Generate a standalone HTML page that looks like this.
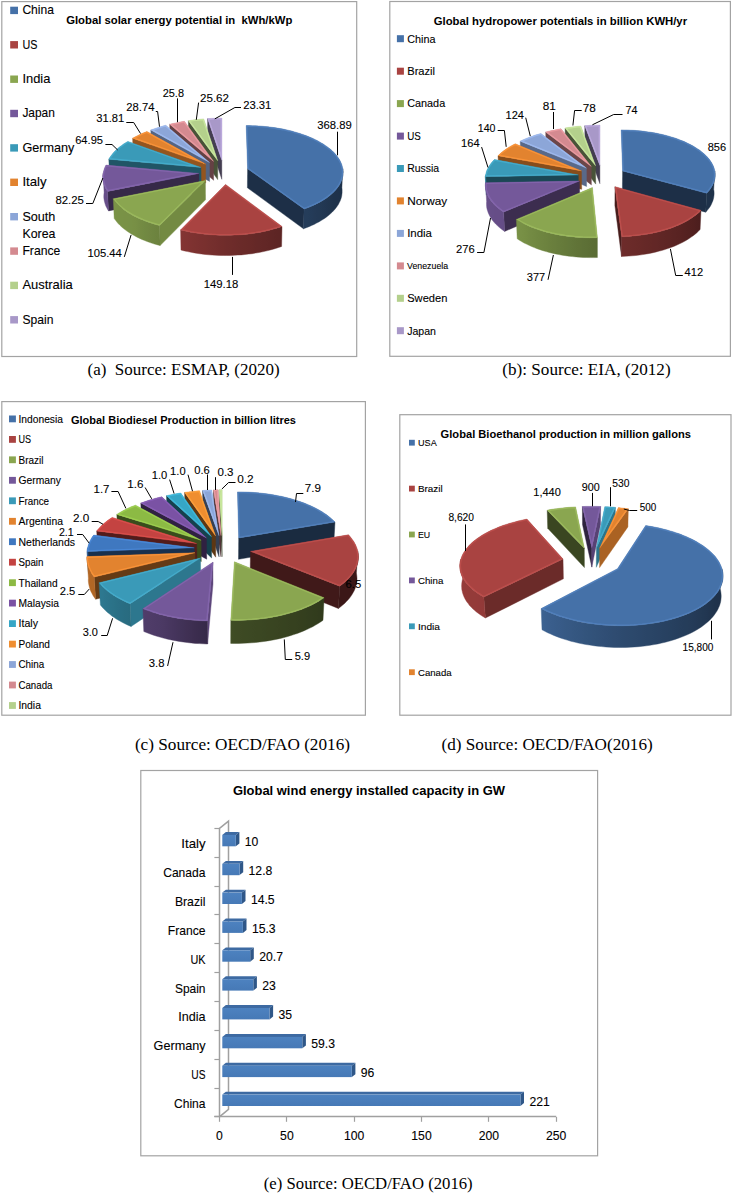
<!DOCTYPE html>
<html><head><meta charset="utf-8"><style>
html,body{margin:0;padding:0;background:#fff;}
body{width:733px;height:1194px;overflow:hidden;}
svg{display:block;}
</style></head><body>
<svg width="733" height="1194" viewBox="0 0 733 1194">
<defs>
<linearGradient id="a_r0_90" gradientUnits="userSpaceOnUse" x1="304.1" y1="0" x2="343.1" y2="0"><stop offset="0.000" stop-color="#253d5b"/><stop offset="0.072" stop-color="#253d5a"/><stop offset="0.142" stop-color="#243c59"/><stop offset="0.210" stop-color="#243b58"/><stop offset="0.275" stop-color="#243a56"/><stop offset="0.338" stop-color="#233955"/><stop offset="0.399" stop-color="#233954"/><stop offset="0.457" stop-color="#223853"/><stop offset="0.512" stop-color="#223752"/><stop offset="0.564" stop-color="#213651"/><stop offset="0.614" stop-color="#21354f"/><stop offset="0.661" stop-color="#20354e"/><stop offset="0.705" stop-color="#20344d"/><stop offset="0.746" stop-color="#1f334c"/><stop offset="0.784" stop-color="#1f334b"/><stop offset="0.819" stop-color="#1f324b"/><stop offset="0.851" stop-color="#1f324b"/><stop offset="0.879" stop-color="#1f324a"/><stop offset="0.905" stop-color="#1e324a"/><stop offset="0.928" stop-color="#1e324a"/><stop offset="0.948" stop-color="#1e3149"/><stop offset="0.964" stop-color="#1e3149"/><stop offset="0.978" stop-color="#1e3149"/><stop offset="0.988" stop-color="#1e3148"/><stop offset="0.993" stop-color="#1d2f47"/><stop offset="0.995" stop-color="#1e3048"/><stop offset="0.998" stop-color="#1d3047"/><stop offset="0.999" stop-color="#1d3048"/><stop offset="1.000" stop-color="#1d3047"/></linearGradient>
<clipPath id="a_c0"><polygon points="247.6,168.7 246.2,125.6 249.4,125.6 252.5,125.7 255.6,125.8 258.8,126.0 261.9,126.2 265.0,126.5 268.1,126.8 271.1,127.2 274.2,127.6 277.2,128.1 280.2,128.6 283.1,129.1 286.0,129.7 288.9,130.4 291.8,131.1 294.5,131.9 297.3,132.7 300.0,133.5 302.6,134.4 305.2,135.3 307.7,136.3 310.1,137.3 312.5,138.3 314.8,139.4 317.1,140.5 319.2,141.7 321.3,142.9 323.3,144.1 325.2,145.4 327.1,146.7 328.8,148.0 330.5,149.3 332.1,150.7 333.5,152.1 334.9,153.6 336.2,155.0 337.3,156.5 338.4,158.0 339.4,159.6 340.2,161.1 341.0,162.7 341.6,164.2 342.1,165.8 342.5,167.4 342.8,169.0 343.0,170.6 343.1,172.2 343.0,173.8 342.8,175.5 342.5,177.1 342.1,178.7 341.6,180.3 340.9,181.9 340.2,183.5 339.3,185.1 338.3,186.6 337.1,188.2 335.9,189.7 334.5,191.2 333.0,192.7 331.4,194.1 329.7,195.6 327.9,197.0 326.0,198.4 324.0,199.7 321.8,201.0 319.6,202.3 317.2,203.5 314.8,204.7 312.3,205.8 309.6,206.9 306.9,208.0 304.1,209.0"/></clipPath>
<linearGradient id="a_r1_146" gradientUnits="userSpaceOnUse" x1="180.6" y1="0" x2="282.0" y2="0"><stop offset="0.000" stop-color="#843433"/><stop offset="0.032" stop-color="#823432"/><stop offset="0.066" stop-color="#813332"/><stop offset="0.099" stop-color="#7f3231"/><stop offset="0.133" stop-color="#7d3230"/><stop offset="0.168" stop-color="#7c3130"/><stop offset="0.203" stop-color="#7a302f"/><stop offset="0.239" stop-color="#79302e"/><stop offset="0.274" stop-color="#772f2e"/><stop offset="0.310" stop-color="#752f2d"/><stop offset="0.347" stop-color="#742e2d"/><stop offset="0.383" stop-color="#722d2c"/><stop offset="0.419" stop-color="#712d2b"/><stop offset="0.456" stop-color="#6f2c2b"/><stop offset="0.492" stop-color="#6e2c2a"/><stop offset="0.529" stop-color="#6d2b2a"/><stop offset="0.565" stop-color="#6b2b29"/><stop offset="0.601" stop-color="#6a2a29"/><stop offset="0.637" stop-color="#692a28"/><stop offset="0.672" stop-color="#682928"/><stop offset="0.708" stop-color="#672927"/><stop offset="0.742" stop-color="#652827"/><stop offset="0.777" stop-color="#642827"/><stop offset="0.810" stop-color="#632726"/><stop offset="0.844" stop-color="#622726"/><stop offset="0.876" stop-color="#612625"/><stop offset="0.908" stop-color="#5f2625"/><stop offset="0.940" stop-color="#5e2524"/><stop offset="0.970" stop-color="#5d2524"/><stop offset="1.000" stop-color="#5c2423"/></linearGradient>
<clipPath id="a_c1"><polygon points="225.5,184.4 282.0,226.5 279.0,227.5 275.9,228.4 272.7,229.3 269.5,230.2 266.2,231.0 262.8,231.7 259.4,232.4 255.9,233.0 252.4,233.5 248.8,234.0 245.2,234.4 241.6,234.7 237.9,235.0 234.3,235.1 230.6,235.3 226.9,235.3 223.2,235.3 219.5,235.2 215.8,235.1 212.1,234.9 208.5,234.6 204.8,234.2 201.2,233.8 197.7,233.3 194.2,232.8 190.7,232.2 187.3,231.5 183.9,230.7 180.6,229.9"/></clipPath>
<linearGradient id="a_r2_205" gradientUnits="userSpaceOnUse" x1="113.3" y1="0" x2="159.6" y2="0"><stop offset="0.000" stop-color="#7a9347"/><stop offset="0.026" stop-color="#7a9347"/><stop offset="0.054" stop-color="#7a9247"/><stop offset="0.086" stop-color="#7a9246"/><stop offset="0.120" stop-color="#799246"/><stop offset="0.157" stop-color="#799246"/><stop offset="0.197" stop-color="#799246"/><stop offset="0.239" stop-color="#799146"/><stop offset="0.284" stop-color="#799146"/><stop offset="0.331" stop-color="#789146"/><stop offset="0.381" stop-color="#789146"/><stop offset="0.433" stop-color="#789045"/><stop offset="0.488" stop-color="#778f45"/><stop offset="0.545" stop-color="#758d44"/><stop offset="0.604" stop-color="#748b43"/><stop offset="0.665" stop-color="#728a42"/><stop offset="0.728" stop-color="#718842"/><stop offset="0.794" stop-color="#708641"/><stop offset="0.861" stop-color="#6e8540"/><stop offset="0.930" stop-color="#6d833f"/><stop offset="1.000" stop-color="#6c823e"/></linearGradient>
<clipPath id="a_c2"><polygon points="205.4,180.5 159.6,225.6 156.3,224.7 153.2,223.8 150.0,222.8 147.0,221.7 144.1,220.6 141.3,219.4 138.5,218.2 135.9,217.0 133.3,215.7 130.9,214.3 128.6,212.9 126.4,211.5 124.3,210.0 122.4,208.5 120.6,207.0 118.8,205.4 117.3,203.8 115.8,202.2 114.5,200.5 113.3,198.8"/></clipPath>
<linearGradient id="a_r3_247" gradientUnits="userSpaceOnUse" x1="102.8" y1="0" x2="107.5" y2="0"><stop offset="0.000" stop-color="#684f8a"/><stop offset="0.008" stop-color="#684f8a"/><stop offset="0.018" stop-color="#684f8a"/><stop offset="0.041" stop-color="#684f8a"/><stop offset="0.061" stop-color="#684f8b"/><stop offset="0.100" stop-color="#684f8a"/><stop offset="0.185" stop-color="#674e89"/><stop offset="0.296" stop-color="#674e89"/><stop offset="0.433" stop-color="#674e89"/><stop offset="0.596" stop-color="#674e89"/><stop offset="0.785" stop-color="#674e89"/><stop offset="1.000" stop-color="#674e88"/></linearGradient>
<clipPath id="a_c3"><polygon points="198.9,173.4 107.5,191.4 106.5,189.8 105.6,188.1 104.9,186.5 104.2,184.9 103.7,183.2 103.3,181.5 103.0,179.9 102.9,178.2 102.8,176.5 102.9,174.9 103.2,173.2 103.5,171.6 104.0,169.9 104.5,168.3 105.2,166.7 106.0,165.1"/></clipPath>
<clipPath id="a_c4"><polygon points="201.0,167.4 108.8,159.2 109.8,157.6 110.9,156.0 112.1,154.4 113.4,152.8 114.8,151.3 116.4,149.8 118.0,148.3 119.8,146.8 121.7,145.4 123.6,144.0 125.7,142.7 127.9,141.4"/></clipPath>
<clipPath id="a_c5"><polygon points="205.6,164.1 132.6,138.3 134.8,137.1 137.1,135.9 139.4,134.7 141.8,133.6 144.4,132.5 146.9,131.5"/></clipPath>
<clipPath id="a_c6"><polygon points="209.5,162.5 150.8,130.0 153.7,129.0 156.6,128.0 159.6,127.0 162.7,126.1 165.8,125.3"/></clipPath>
<clipPath id="a_c7"><polygon points="213.6,161.4 169.7,124.3 172.6,123.6 175.5,123.0 178.4,122.4 181.4,121.8 184.4,121.3"/></clipPath>
<clipPath id="a_c8"><polygon points="217.7,160.7 188.4,120.7 191.4,120.2 194.5,119.8 197.5,119.5 200.6,119.2 203.7,118.9"/></clipPath>
<clipPath id="a_c9"><polygon points="221.8,160.3 207.6,118.6 211.2,118.4 214.8,118.3 218.3,118.2 221.9,118.1"/></clipPath>
<linearGradient id="b_r0_90" gradientUnits="userSpaceOnUse" x1="706.7" y1="0" x2="715.1" y2="0"><stop offset="0.000" stop-color="#1f334b"/><stop offset="0.166" stop-color="#1f334b"/><stop offset="0.317" stop-color="#1f324b"/><stop offset="0.453" stop-color="#1f324a"/><stop offset="0.574" stop-color="#1e324a"/><stop offset="0.680" stop-color="#1e324a"/><stop offset="0.771" stop-color="#1e3149"/><stop offset="0.847" stop-color="#1e3149"/><stop offset="0.907" stop-color="#1e3149"/><stop offset="0.953" stop-color="#1e3148"/><stop offset="0.958" stop-color="#1d2f47"/><stop offset="0.983" stop-color="#1e3048"/><stop offset="0.986" stop-color="#1d3047"/><stop offset="0.999" stop-color="#1d3048"/><stop offset="1.000" stop-color="#1d3047"/></linearGradient>
<clipPath id="b_c0"><polygon points="622.6,170.9 621.2,129.9 624.3,130.0 627.3,130.0 630.3,130.2 633.3,130.3 636.3,130.5 639.3,130.8 642.3,131.1 645.3,131.5 648.2,131.9 651.1,132.3 654.0,132.8 656.8,133.3 659.7,133.9 662.4,134.6 665.2,135.2 667.9,135.9 670.5,136.7 673.1,137.5 675.7,138.3 678.2,139.2 680.6,140.2 683.0,141.1 685.3,142.1 687.5,143.2 689.7,144.2 691.8,145.3 693.9,146.5 695.8,147.7 697.7,148.9 699.5,150.1 701.2,151.4 702.8,152.7 704.3,154.1 705.8,155.4 707.1,156.8 708.4,158.2 709.5,159.6 710.5,161.1 711.5,162.6 712.3,164.1 713.1,165.6 713.7,167.1 714.2,168.6 714.6,170.2 714.9,171.7 715.1,173.3 715.1,174.8 715.1,176.4 714.9,178.0 714.6,179.5 714.2,181.1 713.7,182.7 713.0,184.2 712.3,185.8 711.4,187.3 710.4,188.8 709.3,190.3 708.0,191.8 706.7,193.3"/></clipPath>
<linearGradient id="b_r1_119" gradientUnits="userSpaceOnUse" x1="621.7" y1="0" x2="701.0" y2="0"><stop offset="0.000" stop-color="#6e2b2a"/><stop offset="0.046" stop-color="#6c2b2a"/><stop offset="0.092" stop-color="#6b2b29"/><stop offset="0.137" stop-color="#6a2a29"/><stop offset="0.182" stop-color="#692a28"/><stop offset="0.227" stop-color="#682928"/><stop offset="0.271" stop-color="#662927"/><stop offset="0.315" stop-color="#652827"/><stop offset="0.358" stop-color="#642826"/><stop offset="0.400" stop-color="#632726"/><stop offset="0.442" stop-color="#622726"/><stop offset="0.483" stop-color="#602625"/><stop offset="0.522" stop-color="#5f2625"/><stop offset="0.561" stop-color="#5e2524"/><stop offset="0.599" stop-color="#5d2524"/><stop offset="0.636" stop-color="#5b2423"/><stop offset="0.672" stop-color="#5a2423"/><stop offset="0.707" stop-color="#592322"/><stop offset="0.740" stop-color="#582322"/><stop offset="0.772" stop-color="#572221"/><stop offset="0.803" stop-color="#552221"/><stop offset="0.833" stop-color="#542120"/><stop offset="0.861" stop-color="#532120"/><stop offset="0.888" stop-color="#52201f"/><stop offset="0.913" stop-color="#51201f"/><stop offset="0.937" stop-color="#4f1f1f"/><stop offset="0.960" stop-color="#4e1f1e"/><stop offset="0.981" stop-color="#4d1e1e"/><stop offset="1.000" stop-color="#4c1e1d"/></linearGradient>
<clipPath id="b_c1"><polygon points="615.0,186.7 701.0,210.3 699.5,211.9 697.8,213.4 696.0,214.9 694.1,216.3 692.1,217.7 690.0,219.1 687.8,220.5 685.4,221.8 683.0,223.1 680.4,224.3 677.8,225.5 675.0,226.6 672.2,227.7 669.3,228.7 666.2,229.7 663.2,230.6 660.0,231.5 656.8,232.3 653.5,233.0 650.1,233.7 646.7,234.3 643.2,234.8 639.7,235.3 636.2,235.7 632.6,236.1 629.0,236.4 625.4,236.6 621.7,236.7"/></clipPath>
<linearGradient id="b_r2_176" gradientUnits="userSpaceOnUse" x1="516.4" y1="0" x2="597.4" y2="0"><stop offset="0.000" stop-color="#789146"/><stop offset="0.027" stop-color="#789146"/><stop offset="0.055" stop-color="#789046"/><stop offset="0.084" stop-color="#778f45"/><stop offset="0.114" stop-color="#768e44"/><stop offset="0.146" stop-color="#748c43"/><stop offset="0.179" stop-color="#738a43"/><stop offset="0.213" stop-color="#728942"/><stop offset="0.248" stop-color="#708741"/><stop offset="0.284" stop-color="#6f8640"/><stop offset="0.321" stop-color="#6e8440"/><stop offset="0.359" stop-color="#6d833f"/><stop offset="0.398" stop-color="#6b813e"/><stop offset="0.438" stop-color="#6a7f3d"/><stop offset="0.478" stop-color="#697e3d"/><stop offset="0.519" stop-color="#677c3c"/><stop offset="0.561" stop-color="#667b3b"/><stop offset="0.604" stop-color="#65793a"/><stop offset="0.646" stop-color="#63783a"/><stop offset="0.690" stop-color="#627639"/><stop offset="0.734" stop-color="#617438"/><stop offset="0.778" stop-color="#607337"/><stop offset="0.822" stop-color="#5e7137"/><stop offset="0.866" stop-color="#5d7036"/><stop offset="0.911" stop-color="#5c6e35"/><stop offset="0.955" stop-color="#5b6d34"/><stop offset="1.000" stop-color="#5a6c34"/></linearGradient>
<clipPath id="b_c2"><polygon points="592.4,187.6 597.4,237.7 593.8,237.8 590.1,237.8 586.5,237.7 582.9,237.6 579.4,237.4 575.8,237.2 572.3,236.8 568.7,236.4 565.3,236.0 561.8,235.4 558.5,234.9 555.1,234.2 551.8,233.5 548.6,232.7 545.5,231.9 542.4,231.0 539.4,230.1 536.5,229.1 533.6,228.0 530.9,226.9 528.2,225.8 525.7,224.6 523.2,223.4 520.8,222.1 518.6,220.8 516.4,219.4"/></clipPath>
<linearGradient id="b_r3_229" gradientUnits="userSpaceOnUse" x1="485.4" y1="0" x2="503.6" y2="0"><stop offset="0.000" stop-color="#684f8a"/><stop offset="0.000" stop-color="#684f8a"/><stop offset="0.006" stop-color="#684f8a"/><stop offset="0.007" stop-color="#684f8a"/><stop offset="0.019" stop-color="#684f8a"/><stop offset="0.038" stop-color="#674e89"/><stop offset="0.065" stop-color="#674e89"/><stop offset="0.097" stop-color="#674e89"/><stop offset="0.137" stop-color="#674e89"/><stop offset="0.182" stop-color="#674e89"/><stop offset="0.235" stop-color="#674e88"/><stop offset="0.294" stop-color="#674e88"/><stop offset="0.360" stop-color="#664e88"/><stop offset="0.432" stop-color="#664e88"/><stop offset="0.511" stop-color="#664d87"/><stop offset="0.596" stop-color="#664d87"/><stop offset="0.688" stop-color="#664d87"/><stop offset="0.786" stop-color="#664d87"/><stop offset="0.890" stop-color="#654d87"/><stop offset="1.000" stop-color="#654d86"/></linearGradient>
<clipPath id="b_c3"><polygon points="579.5,181.0 503.6,212.1 501.6,210.7 499.7,209.3 497.9,207.9 496.3,206.5 494.7,205.0 493.3,203.5 492.0,201.9 490.8,200.4 489.7,198.8 488.7,197.3 487.9,195.7 487.2,194.1 486.6,192.4 486.1,190.8 485.7,189.2 485.5,187.6 485.4,186.0 485.4,184.3 485.5,182.7"/></clipPath>
<linearGradient id="b_r4_267" gradientUnits="userSpaceOnUse" x1="485.3" y1="0" x2="485.6" y2="0"><stop offset="0.000" stop-color="#348aa5"/><stop offset="0.202" stop-color="#348aa5"/><stop offset="0.436" stop-color="#348aa5"/><stop offset="0.702" stop-color="#348ba6"/><stop offset="1.000" stop-color="#348ba6"/></linearGradient>
<clipPath id="b_c4"><polygon points="578.3,174.9 485.3,176.6 485.6,174.9 486.0,173.3 486.4,171.7 487.0,170.1 487.8,168.6 488.6,167.0 489.5,165.5 490.6,163.9 491.7,162.4 493.0,161.0 494.4,159.5"/></clipPath>
<clipPath id="b_c5"><polygon points="581.5,170.9 498.0,155.7 499.5,154.3 501.1,152.8 502.8,151.4 504.7,150.1 506.6,148.7 508.6,147.4 510.7,146.2 512.9,145.0 515.2,143.8"/></clipPath>
<clipPath id="b_c6"><polygon points="586.4,168.1 520.2,141.2 522.6,140.1 525.0,139.0 527.5,138.0 530.0,137.0 532.7,136.1 535.3,135.1 538.1,134.3 540.9,133.5"/></clipPath>
<clipPath id="b_c7"><polygon points="591.3,166.5 545.7,132.1 548.6,131.3 551.7,130.6 554.7,129.9 557.9,129.3 561.0,128.7"/></clipPath>
<clipPath id="b_c8"><polygon points="595.6,165.8 565.1,128.0 568.2,127.5 571.3,127.1 574.4,126.7 577.6,126.3 580.8,126.1"/></clipPath>
<clipPath id="b_c9"><polygon points="599.9,165.4 584.8,125.7 587.8,125.5 590.9,125.3 593.9,125.2 597.0,125.2 600.0,125.1"/></clipPath>
<clipPath id="c_c0"><polygon points="238.7,538.0 237.5,491.9 240.9,491.9 244.3,492.0 247.8,492.1 251.2,492.3 254.6,492.5 258.0,492.8 261.4,493.2 264.7,493.6 268.1,494.0 271.4,494.5 274.6,495.1 277.9,495.7 281.1,496.3 284.2,497.0 287.3,497.8 290.4,498.6 293.4,499.5 296.3,500.4 299.2,501.3 302.1,502.3 304.8,503.3 307.5,504.4 310.1,505.6 312.7,506.7 315.2,507.9 317.6,509.2 319.9,510.5 322.1,511.8 324.2,513.2 326.3,514.6 328.2,516.0 330.0,517.5 331.8,519.0 333.4,520.6 335.0,522.1"/></clipPath>
<linearGradient id="c_r1_90" gradientUnits="userSpaceOnUse" x1="339.7" y1="0" x2="358.4" y2="0"><stop offset="0.000" stop-color="#3b1717"/><stop offset="0.119" stop-color="#3b1717"/><stop offset="0.231" stop-color="#3b1717"/><stop offset="0.336" stop-color="#3b1717"/><stop offset="0.433" stop-color="#3b1717"/><stop offset="0.523" stop-color="#3b1717"/><stop offset="0.605" stop-color="#3b1717"/><stop offset="0.679" stop-color="#3b1717"/><stop offset="0.746" stop-color="#3b1717"/><stop offset="0.805" stop-color="#3b1717"/><stop offset="0.856" stop-color="#3b1717"/><stop offset="0.899" stop-color="#3b1717"/><stop offset="0.935" stop-color="#3b1717"/><stop offset="0.963" stop-color="#3b1717"/><stop offset="0.969" stop-color="#3b1717"/><stop offset="0.983" stop-color="#3b1717"/><stop offset="0.987" stop-color="#3b1717"/><stop offset="0.995" stop-color="#3b1717"/><stop offset="0.997" stop-color="#3b1717"/><stop offset="1.000" stop-color="#3b1717"/></linearGradient>
<clipPath id="c_c1"><polygon points="250.5,551.4 348.5,534.8 350.0,536.5 351.4,538.2 352.6,539.9 353.8,541.6 354.8,543.4 355.7,545.1 356.4,546.9 357.1,548.7 357.6,550.5 358.0,552.4 358.3,554.2 358.4,556.0 358.4,557.9 358.2,559.7 357.9,561.6 357.5,563.4 357.0,565.3 356.3,567.1 355.4,569.0 354.5,570.8 353.4,572.6 352.1,574.4 350.8,576.1 349.2,577.9 347.6,579.6 345.8,581.3 343.9,582.9 341.8,584.6 339.7,586.2"/></clipPath>
<linearGradient id="c_r2_129" gradientUnits="userSpaceOnUse" x1="230.8" y1="0" x2="324.1" y2="0"><stop offset="0.000" stop-color="#414e25"/><stop offset="0.045" stop-color="#3e4b24"/><stop offset="0.091" stop-color="#3e4a24"/><stop offset="0.136" stop-color="#3d4923"/><stop offset="0.181" stop-color="#3c4923"/><stop offset="0.226" stop-color="#3c4823"/><stop offset="0.270" stop-color="#3b4722"/><stop offset="0.314" stop-color="#3b4722"/><stop offset="0.358" stop-color="#3a4622"/><stop offset="0.401" stop-color="#3a4521"/><stop offset="0.444" stop-color="#394521"/><stop offset="0.486" stop-color="#394421"/><stop offset="0.527" stop-color="#384320"/><stop offset="0.568" stop-color="#374320"/><stop offset="0.608" stop-color="#374220"/><stop offset="0.646" stop-color="#36411f"/><stop offset="0.684" stop-color="#36411f"/><stop offset="0.721" stop-color="#35401f"/><stop offset="0.757" stop-color="#353f1e"/><stop offset="0.792" stop-color="#343f1e"/><stop offset="0.825" stop-color="#333e1e"/><stop offset="0.857" stop-color="#333d1e"/><stop offset="0.889" stop-color="#323d1d"/><stop offset="0.918" stop-color="#323c1d"/><stop offset="0.947" stop-color="#313b1d"/><stop offset="0.974" stop-color="#313b1c"/><stop offset="1.000" stop-color="#303a1c"/></linearGradient>
<clipPath id="c_c2"><polygon points="234.4,561.8 324.1,597.7 321.7,599.3 319.2,600.9 316.5,602.4 313.7,603.9 310.8,605.4 307.8,606.8 304.7,608.1 301.4,609.4 298.1,610.6 294.7,611.7 291.1,612.8 287.5,613.8 283.8,614.8 280.0,615.7 276.2,616.5 272.2,617.2 268.3,617.9 264.2,618.5 260.1,619.0 256.0,619.4 251.9,619.8 247.7,620.1 243.5,620.3 239.3,620.4 235.0,620.4 230.8,620.3"/></clipPath>
<linearGradient id="c_r3_182" gradientUnits="userSpaceOnUse" x1="142.9" y1="0" x2="207.4" y2="0"><stop offset="0.000" stop-color="#503d6b"/><stop offset="0.050" stop-color="#4f3c69"/><stop offset="0.101" stop-color="#4f3c68"/><stop offset="0.154" stop-color="#4e3b67"/><stop offset="0.208" stop-color="#4d3a66"/><stop offset="0.263" stop-color="#4c3a65"/><stop offset="0.320" stop-color="#4b3963"/><stop offset="0.377" stop-color="#493761"/><stop offset="0.436" stop-color="#47365e"/><stop offset="0.496" stop-color="#45345c"/><stop offset="0.557" stop-color="#433359"/><stop offset="0.619" stop-color="#413257"/><stop offset="0.681" stop-color="#403054"/><stop offset="0.744" stop-color="#3e2f52"/><stop offset="0.807" stop-color="#3c2d4f"/><stop offset="0.871" stop-color="#3a2c4d"/><stop offset="0.936" stop-color="#382b4b"/><stop offset="1.000" stop-color="#362948"/></linearGradient>
<clipPath id="c_c3"><polygon points="212.9,562.2 207.4,620.9 203.2,620.8 199.1,620.6 195.0,620.3 190.9,619.9 186.8,619.5 182.8,619.0 178.8,618.4 174.9,617.7 171.0,617.0 167.2,616.2 163.5,615.3 159.8,614.4 156.3,613.3 152.8,612.3 149.4,611.1 146.1,609.9 142.9,608.7"/></clipPath>
<linearGradient id="c_r4_216" gradientUnits="userSpaceOnUse" x1="99.1" y1="0" x2="130.1" y2="0"><stop offset="0.000" stop-color="#2d7890"/><stop offset="0.050" stop-color="#2d7890"/><stop offset="0.105" stop-color="#2d788f"/><stop offset="0.165" stop-color="#2d768e"/><stop offset="0.229" stop-color="#2c758c"/><stop offset="0.298" stop-color="#2c748b"/><stop offset="0.371" stop-color="#2b7389"/><stop offset="0.449" stop-color="#2b7288"/><stop offset="0.530" stop-color="#2a7186"/><stop offset="0.616" stop-color="#2a6f85"/><stop offset="0.706" stop-color="#296e84"/><stop offset="0.800" stop-color="#296d82"/><stop offset="0.898" stop-color="#296c81"/><stop offset="1.000" stop-color="#286b7f"/></linearGradient>
<clipPath id="c_c4"><polygon points="200.5,558.0 130.1,603.8 126.9,602.5 123.9,601.1 121.0,599.6 118.2,598.1 115.5,596.6 113.0,595.0 110.6,593.4 108.3,591.7 106.2,590.0 104.2,588.2 102.3,586.4 100.6,584.6 99.1,582.8"/></clipPath>
<linearGradient id="c_r5_243" gradientUnits="userSpaceOnUse" x1="86.9" y1="0" x2="94.2" y2="0"><stop offset="0.000" stop-color="#b46825"/><stop offset="0.006" stop-color="#b46825"/><stop offset="0.013" stop-color="#b46825"/><stop offset="0.045" stop-color="#b36825"/><stop offset="0.097" stop-color="#b36825"/><stop offset="0.167" stop-color="#b36825"/><stop offset="0.258" stop-color="#b26725"/><stop offset="0.367" stop-color="#b26725"/><stop offset="0.496" stop-color="#b26725"/><stop offset="0.645" stop-color="#b16725"/><stop offset="0.813" stop-color="#b16725"/><stop offset="1.000" stop-color="#b16625"/></linearGradient>
<clipPath id="c_c5"><polygon points="195.0,552.7 94.2,577.1 92.9,575.3 91.6,573.4 90.5,571.6 89.6,569.7 88.8,567.9 88.1,566.0 87.6,564.1 87.3,562.2 87.0,560.4 86.9,558.5 87.0,556.6"/></clipPath>
<linearGradient id="c_r6_265" gradientUnits="userSpaceOnUse" x1="87.1" y1="0" x2="87.6" y2="0"><stop offset="0.000" stop-color="#326099"/><stop offset="0.145" stop-color="#326099"/><stop offset="0.360" stop-color="#326099"/><stop offset="0.645" stop-color="#326099"/><stop offset="1.000" stop-color="#32609a"/></linearGradient>
<clipPath id="c_c6"><polygon points="194.3,547.8 87.1,551.6 87.3,549.7 87.6,547.8 88.1,546.0 88.7,544.1 89.4,542.3 90.3,540.4 91.3,538.6 92.4,536.8 93.7,535.1"/></clipPath>
<clipPath id="c_c7"><polygon points="196.7,543.6 96.7,531.0 98.2,529.2 99.8,527.4 101.6,525.6 103.4,523.9 105.5,522.2 107.6,520.6 109.8,519.0 112.2,517.4"/></clipPath>
<clipPath id="c_c8"><polygon points="201.1,540.3 116.8,514.4 119.2,512.9 121.7,511.5 124.3,510.1 127.0,508.8 129.7,507.5 132.6,506.3 135.5,505.2"/></clipPath>
<clipPath id="c_c9"><polygon points="206.5,538.0 140.8,503.1 143.6,502.1 146.5,501.1 149.5,500.1 152.5,499.2 155.5,498.3 158.6,497.5 161.8,496.8"/></clipPath>
<clipPath id="c_c10"><polygon points="211.5,536.7 166.5,495.7 170.0,494.9 173.6,494.2 177.1,493.6 180.8,493.0"/></clipPath>
<clipPath id="c_c11"><polygon points="215.6,536.0 184.6,492.4 188.3,491.9 192.0,491.4 195.7,491.1 199.5,490.7"/></clipPath>
<clipPath id="c_c12"><polygon points="219.0,535.7 202.6,490.5 204.9,490.3 207.2,490.2 209.4,490.1 211.7,490.0"/></clipPath>
<clipPath id="c_c13"><polygon points="221.0,535.6 213.5,489.9 214.6,489.9 215.8,489.8 216.9,489.8 218.0,489.8"/></clipPath>
<clipPath id="c_c14"><polygon points="222.1,535.6 219.1,489.8 219.8,489.8 220.6,489.8 221.3,489.8 222.1,489.8"/></clipPath>
<linearGradient id="d_r0_90" gradientUnits="userSpaceOnUse" x1="541.2" y1="0" x2="723.0" y2="0"><stop offset="0.000" stop-color="#3c6291"/><stop offset="0.015" stop-color="#3b6190"/><stop offset="0.032" stop-color="#3a5f8e"/><stop offset="0.048" stop-color="#3a5e8c"/><stop offset="0.066" stop-color="#395d8b"/><stop offset="0.084" stop-color="#385c89"/><stop offset="0.102" stop-color="#385b88"/><stop offset="0.121" stop-color="#375a86"/><stop offset="0.141" stop-color="#365984"/><stop offset="0.161" stop-color="#365883"/><stop offset="0.181" stop-color="#355781"/><stop offset="0.202" stop-color="#345680"/><stop offset="0.223" stop-color="#34557e"/><stop offset="0.245" stop-color="#33547c"/><stop offset="0.267" stop-color="#32537b"/><stop offset="0.289" stop-color="#325279"/><stop offset="0.311" stop-color="#315178"/><stop offset="0.334" stop-color="#314f76"/><stop offset="0.356" stop-color="#304e75"/><stop offset="0.379" stop-color="#2f4d73"/><stop offset="0.402" stop-color="#2f4c71"/><stop offset="0.425" stop-color="#2e4b70"/><stop offset="0.448" stop-color="#2d4a6e"/><stop offset="0.471" stop-color="#2d496d"/><stop offset="0.494" stop-color="#2c496c"/><stop offset="0.516" stop-color="#2c486b"/><stop offset="0.539" stop-color="#2b476a"/><stop offset="0.561" stop-color="#2b4668"/><stop offset="0.583" stop-color="#2a4567"/><stop offset="0.605" stop-color="#2a4566"/><stop offset="0.626" stop-color="#294465"/><stop offset="0.648" stop-color="#294364"/><stop offset="0.668" stop-color="#284262"/><stop offset="0.689" stop-color="#284161"/><stop offset="0.709" stop-color="#274160"/><stop offset="0.728" stop-color="#27405f"/><stop offset="0.747" stop-color="#263f5e"/><stop offset="0.765" stop-color="#263e5c"/><stop offset="0.783" stop-color="#253d5b"/><stop offset="0.800" stop-color="#253d5a"/><stop offset="0.817" stop-color="#253c59"/><stop offset="0.833" stop-color="#243b58"/><stop offset="0.848" stop-color="#243a57"/><stop offset="0.863" stop-color="#233955"/><stop offset="0.877" stop-color="#233954"/><stop offset="0.890" stop-color="#223853"/><stop offset="0.903" stop-color="#223752"/><stop offset="0.914" stop-color="#213651"/><stop offset="0.926" stop-color="#21354f"/><stop offset="0.936" stop-color="#20354e"/><stop offset="0.945" stop-color="#20344d"/><stop offset="0.954" stop-color="#1f334c"/><stop offset="0.962" stop-color="#1f334b"/><stop offset="0.969" stop-color="#1f324b"/><stop offset="0.976" stop-color="#1f324b"/><stop offset="0.982" stop-color="#1f324a"/><stop offset="0.987" stop-color="#1e324a"/><stop offset="0.991" stop-color="#1e324a"/><stop offset="0.994" stop-color="#1e3149"/><stop offset="0.994" stop-color="#1d2f47"/><stop offset="0.997" stop-color="#1e3149"/><stop offset="0.997" stop-color="#1d3047"/><stop offset="0.999" stop-color="#1d3047"/><stop offset="0.999" stop-color="#1e3149"/><stop offset="1.000" stop-color="#1d3048"/><stop offset="1.000" stop-color="#1e3148"/><stop offset="1.000" stop-color="#1e3048"/></linearGradient>
<clipPath id="d_c0"><polygon points="617.5,568.7 645.7,525.6 648.8,526.1 652.0,526.6 655.1,527.2 658.2,527.8 661.2,528.5 664.2,529.3 667.2,530.0 670.1,530.9 673.0,531.7 675.8,532.7 678.6,533.6 681.3,534.6 684.0,535.7 686.6,536.8 689.1,537.9 691.6,539.1 694.0,540.3 696.3,541.6 698.6,542.9 700.7,544.2 702.8,545.6 704.8,547.0 706.7,548.4 708.6,549.9 710.3,551.4 711.9,553.0 713.4,554.5 714.9,556.1 716.2,557.8 717.4,559.4 718.5,561.1 719.5,562.8 720.3,564.5 721.1,566.3 721.7,568.0 722.2,569.8 722.6,571.6 722.8,573.4 723.0,575.2 723.0,577.0 722.8,578.8 722.6,580.6 722.1,582.4 721.6,584.2 720.9,586.1 720.1,587.9 719.1,589.6 718.1,591.4 716.8,593.2 715.4,594.9 713.9,596.6 712.3,598.3 710.5,600.0 708.6,601.6 706.5,603.3 704.4,604.8 702.0,606.4 699.6,607.9 697.0,609.3 694.4,610.7 691.5,612.1 688.6,613.4 685.6,614.6 682.5,615.8 679.2,617.0 675.9,618.0 672.4,619.1 668.9,620.0 665.3,620.9 661.6,621.7 657.8,622.4 654.0,623.1 650.1,623.7 646.2,624.2 642.2,624.7 638.2,625.1 634.1,625.4 630.0,625.6 625.9,625.7 621.8,625.8 617.7,625.7 613.5,625.6 609.4,625.5 605.3,625.2 601.2,624.9 597.2,624.5 593.2,624.0 589.2,623.4 585.3,622.8 581.4,622.1 577.6,621.3 573.8,620.4 570.2,619.5 566.6,618.6 563.0,617.5 559.6,616.4 556.3,615.2 553.1,614.0 549.9,612.7 546.9,611.4 544.0,610.0 541.2,608.6"/></clipPath>
<linearGradient id="d_r1_223" gradientUnits="userSpaceOnUse" x1="459.8" y1="0" x2="483.8" y2="0"><stop offset="0.000" stop-color="#973c3a"/><stop offset="0.002" stop-color="#973c3a"/><stop offset="0.003" stop-color="#973c3a"/><stop offset="0.010" stop-color="#973c3a"/><stop offset="0.011" stop-color="#983c3a"/><stop offset="0.023" stop-color="#973c3a"/><stop offset="0.025" stop-color="#983c3a"/><stop offset="0.042" stop-color="#963c3a"/><stop offset="0.044" stop-color="#983c3a"/><stop offset="0.067" stop-color="#963b3a"/><stop offset="0.097" stop-color="#963b3a"/><stop offset="0.133" stop-color="#963b3a"/><stop offset="0.174" stop-color="#953b39"/><stop offset="0.222" stop-color="#953b39"/><stop offset="0.274" stop-color="#953b39"/><stop offset="0.333" stop-color="#953b39"/><stop offset="0.397" stop-color="#943b39"/><stop offset="0.467" stop-color="#943b39"/><stop offset="0.542" stop-color="#943b39"/><stop offset="0.623" stop-color="#943b39"/><stop offset="0.709" stop-color="#943a39"/><stop offset="0.801" stop-color="#933a39"/><stop offset="0.898" stop-color="#933a39"/><stop offset="1.000" stop-color="#923a38"/></linearGradient>
<clipPath id="d_c1"><polygon points="563.0,559.0 483.8,597.1 481.3,595.7 479.0,594.2 476.8,592.7 474.7,591.2 472.8,589.6 470.9,588.0 469.3,586.4 467.7,584.7 466.3,583.0 465.0,581.4 463.9,579.6 462.9,577.9 462.1,576.2 461.4,574.4 460.8,572.7 460.3,570.9 460.0,569.2 459.9,567.4 459.8,565.7 459.9,563.9 460.1,562.2 460.5,560.5 461.0,558.7 461.6,557.0 462.3,555.3 463.1,553.7 464.1,552.0 465.2,550.4 466.3,548.8 467.6,547.2 469.0,545.6 470.5,544.1 472.1,542.6 473.8,541.1 475.6,539.7 477.5,538.3 479.5,536.9 481.6,535.6 483.7,534.3 486.0,533.0 488.3,531.8 490.6,530.6 493.1,529.5 495.6,528.4 498.2,527.3 500.8,526.3 503.5,525.3 506.3,524.4 509.1,523.5 512.0,522.7 514.9,521.9 517.8,521.1 520.8,520.4 523.9,519.7 526.9,519.1"/></clipPath>
<clipPath id="d_c2"><polygon points="584.3,548.2 547.2,510.2 550.2,509.6 553.3,509.1 556.4,508.7 559.6,508.3 562.8,507.9 566.0,507.6 569.2,507.3 572.4,507.1 575.6,506.9"/></clipPath>
<clipPath id="d_c3"><polygon points="591.8,547.7 582.4,506.6 586.0,506.4 589.7,506.4 593.3,506.4 597.0,506.4 600.6,506.5"/></clipPath>
<clipPath id="d_c4"><polygon points="596.4,547.9 604.8,506.7 607.5,506.8 610.1,507.0 612.8,507.1 615.4,507.4"/></clipPath>
<clipPath id="d_c5"><polygon points="599.7,548.2 618.4,507.6 620.9,507.9 623.4,508.2 625.8,508.5 628.3,508.8"/></clipPath>
<linearGradient id="barF" x1="0" y1="0" x2="0" y2="1"><stop offset="0" stop-color="#4d82c0"/><stop offset="1" stop-color="#4679b6"/></linearGradient>
</defs>
<rect x="0" y="0" width="733" height="1194" fill="#fff"/>
<rect x="1.8" y="1.6" width="354.9" height="354.9" fill="none" stroke="#a3a3a3" stroke-width="1.2"/>
<rect x="389.8" y="1.5" width="340.6" height="354.8" fill="none" stroke="#a3a3a3" stroke-width="1.2"/>
<rect x="1.8" y="401.6" width="363.6" height="313.6" fill="none" stroke="#a3a3a3" stroke-width="1.2"/>
<rect x="399.8" y="414.7" width="331.2" height="300.5" fill="none" stroke="#a3a3a3" stroke-width="1.2"/>
<rect x="140.8" y="770.5" width="456.8" height="385.3" fill="none" stroke="#a3a3a3" stroke-width="1.2"/>
<polygon points="221.8,160.3 207.6,118.6 207.7,136.8 221.8,179.3" fill="#433d50" stroke="#433d50" stroke-width="0.4"/>
<polygon points="221.8,160.3 207.6,118.6 211.2,118.4 214.8,118.3 218.3,118.2 221.9,118.1" fill="#a898c8" stroke="#a898c8" stroke-width="0.4"/>
<polygon points="221.8,160.3 207.6,118.6 211.2,118.4 214.8,118.3 218.3,118.2 221.9,118.1" fill="none" stroke="#bfade2" stroke-width="2.6" stroke-linejoin="round" clip-path="url(#a_c9)" opacity="0.8"/>
<polygon points="217.7,160.7 188.4,120.7 188.6,138.9 217.7,179.6" fill="#485338" stroke="#485338" stroke-width="0.4"/>
<polygon points="217.7,160.7 188.4,120.7 191.4,120.2 194.5,119.8 197.5,119.5 200.6,119.2 203.7,118.9" fill="#b4d08c" stroke="#b4d08c" stroke-width="0.4"/>
<polygon points="217.7,160.7 188.4,120.7 191.4,120.2 194.5,119.8 197.5,119.5 200.6,119.2 203.7,118.9" fill="none" stroke="#cceba0" stroke-width="2.6" stroke-linejoin="round" clip-path="url(#a_c8)" opacity="0.8"/>
<polygon points="213.6,161.4 169.7,124.3 170.1,142.6 213.6,180.3" fill="#654144" stroke="#654144" stroke-width="0.4"/>
<polygon points="213.6,161.4 169.7,124.3 172.6,123.6 175.5,123.0 178.4,122.4 181.4,121.8 184.4,121.3" fill="#d48a90" stroke="#d48a90" stroke-width="0.4"/>
<polygon points="213.6,161.4 169.7,124.3 172.6,123.6 175.5,123.0 178.4,122.4 181.4,121.8 184.4,121.3" fill="none" stroke="#ef9ea4" stroke-width="2.6" stroke-linejoin="round" clip-path="url(#a_c7)" opacity="0.8"/>
<polygon points="209.5,162.5 150.8,130.0 151.3,148.4 209.6,181.4" fill="#546482" stroke="#546482" stroke-width="0.4"/>
<polygon points="209.5,162.5 150.8,130.0 153.7,129.0 156.6,128.0 159.6,127.0 162.7,126.1 165.8,125.3" fill="#8ca6d8" stroke="#8ca6d8" stroke-width="0.4"/>
<polygon points="209.5,162.5 150.8,130.0 153.7,129.0 156.6,128.0 159.6,127.0 162.7,126.1 165.8,125.3" fill="none" stroke="#a0bdf4" stroke-width="2.6" stroke-linejoin="round" clip-path="url(#a_c6)" opacity="0.8"/>
<polygon points="205.6,164.1 132.6,138.3 133.3,156.8 205.7,183.1" fill="#93551f" stroke="#93551f" stroke-width="0.4"/>
<polygon points="205.6,164.1 132.6,138.3 134.8,137.1 137.1,135.9 139.4,134.7 141.8,133.6 144.4,132.5 146.9,131.5" fill="#e2832f" stroke="#e2832f" stroke-width="0.4"/>
<polygon points="205.6,164.1 132.6,138.3 134.8,137.1 137.1,135.9 139.4,134.7 141.8,133.6 144.4,132.5 146.9,131.5" fill="none" stroke="#ff963a" stroke-width="2.6" stroke-linejoin="round" clip-path="url(#a_c5)" opacity="0.8"/>
<polygon points="201.0,167.4 108.8,159.2 109.7,178.2 201.2,186.5" fill="#205566" stroke="#205566" stroke-width="0.4"/>
<polygon points="201.0,167.4 108.8,159.2 109.8,157.6 110.9,156.0 112.1,154.4 113.4,152.8 114.8,151.3 116.4,149.8 118.0,148.3 119.8,146.8 121.7,145.4 123.6,144.0 125.7,142.7 127.9,141.4" fill="#3a9ab8" stroke="#3a9ab8" stroke-width="0.4"/>
<polygon points="201.0,167.4 108.8,159.2 109.8,157.6 110.9,156.0 112.1,154.4 113.4,152.8 114.8,151.3 116.4,149.8 118.0,148.3 119.8,146.8 121.7,145.4 123.6,144.0 125.7,142.7 127.9,141.4" fill="none" stroke="#46afd0" stroke-width="2.6" stroke-linejoin="round" clip-path="url(#a_c4)" opacity="0.8"/>
<polygon points="247.6,168.7 304.1,209.0 303.5,228.8 247.4,187.8" fill="#1d2f47" stroke="#1d2f47" stroke-width="0.4"/>
<polygon points="342.8,168.7 343.0,170.3 343.1,172.0 343.0,173.6 342.9,175.2 342.6,176.8 342.2,178.5 341.7,180.1 341.0,181.7 340.3,183.3 339.4,184.9 338.4,186.4 337.2,188.0 336.0,189.5 334.6,191.1 333.2,192.6 331.6,194.0 329.9,195.5 328.0,196.9 326.1,198.3 324.1,199.6 321.9,200.9 319.7,202.2 317.3,203.5 314.9,204.7 312.3,205.8 309.7,206.9 307.0,208.0 304.1,209.0 303.5,228.8 306.3,227.7 309.0,226.7 311.6,225.5 314.1,224.4 316.6,223.1 318.9,221.9 321.1,220.6 323.3,219.2 325.3,217.9 327.2,216.5 329.0,215.0 330.7,213.6 332.3,212.1 333.8,210.5 335.1,209.0 336.3,207.4 337.5,205.8 338.5,204.2 339.3,202.6 340.1,201.0 340.7,199.4 341.3,197.7 341.7,196.1 341.9,194.4 342.1,192.7 342.1,191.1 342.1,189.4 341.9,187.8" fill="url(#a_r0_90)" stroke="url(#a_r0_90)" stroke-width="0.4"/>
<polygon points="247.6,168.7 246.2,125.6 249.4,125.6 252.5,125.7 255.6,125.8 258.8,126.0 261.9,126.2 265.0,126.5 268.1,126.8 271.1,127.2 274.2,127.6 277.2,128.1 280.2,128.6 283.1,129.1 286.0,129.7 288.9,130.4 291.8,131.1 294.5,131.9 297.3,132.7 300.0,133.5 302.6,134.4 305.2,135.3 307.7,136.3 310.1,137.3 312.5,138.3 314.8,139.4 317.1,140.5 319.2,141.7 321.3,142.9 323.3,144.1 325.2,145.4 327.1,146.7 328.8,148.0 330.5,149.3 332.1,150.7 333.5,152.1 334.9,153.6 336.2,155.0 337.3,156.5 338.4,158.0 339.4,159.6 340.2,161.1 341.0,162.7 341.6,164.2 342.1,165.8 342.5,167.4 342.8,169.0 343.0,170.6 343.1,172.2 343.0,173.8 342.8,175.5 342.5,177.1 342.1,178.7 341.6,180.3 340.9,181.9 340.2,183.5 339.3,185.1 338.3,186.6 337.1,188.2 335.9,189.7 334.5,191.2 333.0,192.7 331.4,194.1 329.7,195.6 327.9,197.0 326.0,198.4 324.0,199.7 321.8,201.0 319.6,202.3 317.2,203.5 314.8,204.7 312.3,205.8 309.6,206.9 306.9,208.0 304.1,209.0" fill="#4571a8" stroke="#4571a8" stroke-width="0.4"/>
<polygon points="247.6,168.7 246.2,125.6 249.4,125.6 252.5,125.7 255.6,125.8 258.8,126.0 261.9,126.2 265.0,126.5 268.1,126.8 271.1,127.2 274.2,127.6 277.2,128.1 280.2,128.6 283.1,129.1 286.0,129.7 288.9,130.4 291.8,131.1 294.5,131.9 297.3,132.7 300.0,133.5 302.6,134.4 305.2,135.3 307.7,136.3 310.1,137.3 312.5,138.3 314.8,139.4 317.1,140.5 319.2,141.7 321.3,142.9 323.3,144.1 325.2,145.4 327.1,146.7 328.8,148.0 330.5,149.3 332.1,150.7 333.5,152.1 334.9,153.6 336.2,155.0 337.3,156.5 338.4,158.0 339.4,159.6 340.2,161.1 341.0,162.7 341.6,164.2 342.1,165.8 342.5,167.4 342.8,169.0 343.0,170.6 343.1,172.2 343.0,173.8 342.8,175.5 342.5,177.1 342.1,178.7 341.6,180.3 340.9,181.9 340.2,183.5 339.3,185.1 338.3,186.6 337.1,188.2 335.9,189.7 334.5,191.2 333.0,192.7 331.4,194.1 329.7,195.6 327.9,197.0 326.0,198.4 324.0,199.7 321.8,201.0 319.6,202.3 317.2,203.5 314.8,204.7 312.3,205.8 309.6,206.9 306.9,208.0 304.1,209.0" fill="none" stroke="#5282bf" stroke-width="2.6" stroke-linejoin="round" clip-path="url(#a_c0)" opacity="0.8"/>
<polygon points="198.9,173.4 107.5,191.4 108.5,210.9 199.1,192.6" fill="#362948" stroke="#362948" stroke-width="0.4"/>
<polygon points="107.5,191.4 106.5,189.8 105.6,188.2 104.9,186.6 104.2,184.9 103.7,183.3 103.3,181.6 103.0,180.0 102.9,178.3 102.8,176.7 102.9,175.1 103.1,173.4 104.1,192.6 103.9,194.2 103.8,195.9 103.8,197.6 104.0,199.3 104.3,200.9 104.7,202.6 105.2,204.3 105.8,205.9 106.6,207.6 107.5,209.2 108.5,210.9" fill="url(#a_r3_247)" stroke="url(#a_r3_247)" stroke-width="0.4"/>
<polygon points="198.9,173.4 107.5,191.4 106.5,189.8 105.6,188.1 104.9,186.5 104.2,184.9 103.7,183.2 103.3,181.5 103.0,179.9 102.9,178.2 102.8,176.5 102.9,174.9 103.2,173.2 103.5,171.6 104.0,169.9 104.5,168.3 105.2,166.7 106.0,165.1" fill="#74589a" stroke="#74589a" stroke-width="0.4"/>
<polygon points="198.9,173.4 107.5,191.4 106.5,189.8 105.6,188.1 104.9,186.5 104.2,184.9 103.7,183.2 103.3,181.5 103.0,179.9 102.9,178.2 102.8,176.5 102.9,174.9 103.2,173.2 103.5,171.6 104.0,169.9 104.5,168.3 105.2,166.7 106.0,165.1" fill="none" stroke="#8667af" stroke-width="2.6" stroke-linejoin="round" clip-path="url(#a_c3)" opacity="0.8"/>
<polygon points="205.4,180.5 159.6,225.6 160.1,245.6 205.5,199.8" fill="#738a42" stroke="#738a42" stroke-width="0.4"/>
<polygon points="159.6,225.6 156.3,224.7 153.2,223.8 150.0,222.8 147.0,221.7 144.1,220.6 141.3,219.4 138.5,218.2 135.9,217.0 133.3,215.7 130.9,214.3 128.6,212.9 126.4,211.5 124.3,210.0 122.4,208.5 120.6,207.0 118.8,205.4 117.3,203.8 115.8,202.2 114.5,200.5 113.3,198.8 114.2,218.4 115.4,220.1 116.7,221.8 118.1,223.5 119.7,225.1 121.4,226.7 123.2,228.3 125.2,229.8 127.2,231.3 129.4,232.7 131.7,234.2 134.1,235.5 136.6,236.9 139.2,238.2 141.9,239.4 144.7,240.6 147.7,241.7 150.7,242.8 153.7,243.8 156.9,244.7 160.1,245.6" fill="url(#a_r2_205)" stroke="url(#a_r2_205)" stroke-width="0.4"/>
<polygon points="205.4,180.5 159.6,225.6 156.3,224.7 153.2,223.8 150.0,222.8 147.0,221.7 144.1,220.6 141.3,219.4 138.5,218.2 135.9,217.0 133.3,215.7 130.9,214.3 128.6,212.9 126.4,211.5 124.3,210.0 122.4,208.5 120.6,207.0 118.8,205.4 117.3,203.8 115.8,202.2 114.5,200.5 113.3,198.8" fill="#8aa650" stroke="#8aa650" stroke-width="0.4"/>
<polygon points="205.4,180.5 159.6,225.6 156.3,224.7 153.2,223.8 150.0,222.8 147.0,221.7 144.1,220.6 141.3,219.4 138.5,218.2 135.9,217.0 133.3,215.7 130.9,214.3 128.6,212.9 126.4,211.5 124.3,210.0 122.4,208.5 120.6,207.0 118.8,205.4 117.3,203.8 115.8,202.2 114.5,200.5 113.3,198.8" fill="none" stroke="#9ebd5e" stroke-width="2.6" stroke-linejoin="round" clip-path="url(#a_c2)" opacity="0.8"/>
<polygon points="282.0,226.5 279.0,227.5 275.9,228.4 272.7,229.3 269.5,230.2 266.2,231.0 262.8,231.7 259.4,232.4 255.9,233.0 252.4,233.5 248.8,234.0 245.2,234.4 241.6,234.7 237.9,235.0 234.3,235.1 230.6,235.3 226.9,235.3 223.2,235.3 219.5,235.2 215.8,235.1 212.1,234.9 208.5,234.6 204.8,234.2 201.2,233.8 197.7,233.3 194.2,232.8 190.7,232.2 187.3,231.5 183.9,230.7 180.6,229.9 181.0,250.1 184.3,250.9 187.6,251.6 191.0,252.3 194.4,252.9 197.9,253.5 201.4,254.0 205.0,254.4 208.6,254.8 212.2,255.1 215.9,255.3 219.5,255.4 223.2,255.5 226.8,255.5 230.5,255.5 234.2,255.3 237.8,255.1 241.4,254.9 245.0,254.5 248.6,254.1 252.1,253.7 255.6,253.1 259.1,252.5 262.5,251.8 265.8,251.1 269.1,250.3 272.3,249.4 275.5,248.5 278.6,247.5 281.6,246.5" fill="url(#a_r1_146)" stroke="url(#a_r1_146)" stroke-width="0.4"/>
<polygon points="225.5,184.4 282.0,226.5 279.0,227.5 275.9,228.4 272.7,229.3 269.5,230.2 266.2,231.0 262.8,231.7 259.4,232.4 255.9,233.0 252.4,233.5 248.8,234.0 245.2,234.4 241.6,234.7 237.9,235.0 234.3,235.1 230.6,235.3 226.9,235.3 223.2,235.3 219.5,235.2 215.8,235.1 212.1,234.9 208.5,234.6 204.8,234.2 201.2,233.8 197.7,233.3 194.2,232.8 190.7,232.2 187.3,231.5 183.9,230.7 180.6,229.9" fill="#a94341" stroke="#a94341" stroke-width="0.4"/>
<polygon points="225.5,184.4 282.0,226.5 279.0,227.5 275.9,228.4 272.7,229.3 269.5,230.2 266.2,231.0 262.8,231.7 259.4,232.4 255.9,233.0 252.4,233.5 248.8,234.0 245.2,234.4 241.6,234.7 237.9,235.0 234.3,235.1 230.6,235.3 226.9,235.3 223.2,235.3 219.5,235.2 215.8,235.1 212.1,234.9 208.5,234.6 204.8,234.2 201.2,233.8 197.7,233.3 194.2,232.8 190.7,232.2 187.3,231.5 183.9,230.7 180.6,229.9" fill="none" stroke="#c0504e" stroke-width="2.6" stroke-linejoin="round" clip-path="url(#a_c1)" opacity="0.8"/>
<polygon points="599.9,165.4 584.8,125.7 584.9,143.2 599.9,183.7" fill="#433d50" stroke="#433d50" stroke-width="0.4"/>
<polygon points="599.9,165.4 584.8,125.7 587.8,125.5 590.9,125.3 593.9,125.2 597.0,125.2 600.0,125.1" fill="#a898c8" stroke="#a898c8" stroke-width="0.4"/>
<polygon points="599.9,165.4 584.8,125.7 587.8,125.5 590.9,125.3 593.9,125.2 597.0,125.2 600.0,125.1" fill="none" stroke="#bfade2" stroke-width="2.6" stroke-linejoin="round" clip-path="url(#b_c9)" opacity="0.8"/>
<polygon points="595.6,165.8 565.1,128.0 565.4,145.5 595.7,184.1" fill="#485338" stroke="#485338" stroke-width="0.4"/>
<polygon points="595.6,165.8 565.1,128.0 568.2,127.5 571.3,127.1 574.4,126.7 577.6,126.3 580.8,126.1" fill="#b4d08c" stroke="#b4d08c" stroke-width="0.4"/>
<polygon points="595.6,165.8 565.1,128.0 568.2,127.5 571.3,127.1 574.4,126.7 577.6,126.3 580.8,126.1" fill="none" stroke="#cceba0" stroke-width="2.6" stroke-linejoin="round" clip-path="url(#b_c8)" opacity="0.8"/>
<polygon points="591.3,166.5 545.7,132.1 546.1,149.7 591.4,184.9" fill="#6b4649" stroke="#6b4649" stroke-width="0.4"/>
<polygon points="591.3,166.5 545.7,132.1 548.6,131.3 551.7,130.6 554.7,129.9 557.9,129.3 561.0,128.7" fill="#d48a90" stroke="#d48a90" stroke-width="0.4"/>
<polygon points="591.3,166.5 545.7,132.1 548.6,131.3 551.7,130.6 554.7,129.9 557.9,129.3 561.0,128.7" fill="none" stroke="#ef9ea4" stroke-width="2.6" stroke-linejoin="round" clip-path="url(#b_c7)" opacity="0.8"/>
<polygon points="586.4,168.1 520.2,141.2 520.9,159.0 586.6,186.5" fill="#596989" stroke="#596989" stroke-width="0.4"/>
<polygon points="586.4,168.1 520.2,141.2 522.6,140.1 525.0,139.0 527.5,138.0 530.0,137.0 532.7,136.1 535.3,135.1 538.1,134.3 540.9,133.5" fill="#8ca6d8" stroke="#8ca6d8" stroke-width="0.4"/>
<polygon points="586.4,168.1 520.2,141.2 522.6,140.1 525.0,139.0 527.5,138.0 530.0,137.0 532.7,136.1 535.3,135.1 538.1,134.3 540.9,133.5" fill="none" stroke="#a0bdf4" stroke-width="2.6" stroke-linejoin="round" clip-path="url(#b_c6)" opacity="0.8"/>
<polygon points="581.5,170.9 498.0,155.7 498.9,173.9 581.7,189.3" fill="#864d1c" stroke="#864d1c" stroke-width="0.4"/>
<polygon points="581.5,170.9 498.0,155.7 499.5,154.3 501.1,152.8 502.8,151.4 504.7,150.1 506.6,148.7 508.6,147.4 510.7,146.2 512.9,145.0 515.2,143.8" fill="#e2832f" stroke="#e2832f" stroke-width="0.4"/>
<polygon points="581.5,170.9 498.0,155.7 499.5,154.3 501.1,152.8 502.8,151.4 504.7,150.1 506.6,148.7 508.6,147.4 510.7,146.2 512.9,145.0 515.2,143.8" fill="none" stroke="#ff963a" stroke-width="2.6" stroke-linejoin="round" clip-path="url(#b_c5)" opacity="0.8"/>
<polygon points="622.6,170.9 706.7,193.3 705.7,212.2 622.4,189.4" fill="#1d2f47" stroke="#1d2f47" stroke-width="0.4"/>
<polygon points="714.8,170.9 715.0,172.5 715.1,174.2 715.1,175.8 715.0,177.4 714.7,179.0 714.3,180.7 713.8,182.3 713.2,183.9 712.4,185.5 711.5,187.1 710.5,188.7 709.3,190.2 708.1,191.8 706.7,193.3 705.7,212.2 707.1,210.6 708.3,209.1 709.5,207.5 710.5,205.9 711.4,204.2 712.1,202.6 712.8,200.9 713.3,199.3 713.7,197.6 713.9,196.0 714.1,194.3 714.1,192.7 714.0,191.0 713.7,189.4" fill="url(#b_r0_90)" stroke="url(#b_r0_90)" stroke-width="0.4"/>
<polygon points="622.6,170.9 621.2,129.9 624.3,130.0 627.3,130.0 630.3,130.2 633.3,130.3 636.3,130.5 639.3,130.8 642.3,131.1 645.3,131.5 648.2,131.9 651.1,132.3 654.0,132.8 656.8,133.3 659.7,133.9 662.4,134.6 665.2,135.2 667.9,135.9 670.5,136.7 673.1,137.5 675.7,138.3 678.2,139.2 680.6,140.2 683.0,141.1 685.3,142.1 687.5,143.2 689.7,144.2 691.8,145.3 693.9,146.5 695.8,147.7 697.7,148.9 699.5,150.1 701.2,151.4 702.8,152.7 704.3,154.1 705.8,155.4 707.1,156.8 708.4,158.2 709.5,159.6 710.5,161.1 711.5,162.6 712.3,164.1 713.1,165.6 713.7,167.1 714.2,168.6 714.6,170.2 714.9,171.7 715.1,173.3 715.1,174.8 715.1,176.4 714.9,178.0 714.6,179.5 714.2,181.1 713.7,182.7 713.0,184.2 712.3,185.8 711.4,187.3 710.4,188.8 709.3,190.3 708.0,191.8 706.7,193.3" fill="#4571a8" stroke="#4571a8" stroke-width="0.4"/>
<polygon points="622.6,170.9 621.2,129.9 624.3,130.0 627.3,130.0 630.3,130.2 633.3,130.3 636.3,130.5 639.3,130.8 642.3,131.1 645.3,131.5 648.2,131.9 651.1,132.3 654.0,132.8 656.8,133.3 659.7,133.9 662.4,134.6 665.2,135.2 667.9,135.9 670.5,136.7 673.1,137.5 675.7,138.3 678.2,139.2 680.6,140.2 683.0,141.1 685.3,142.1 687.5,143.2 689.7,144.2 691.8,145.3 693.9,146.5 695.8,147.7 697.7,148.9 699.5,150.1 701.2,151.4 702.8,152.7 704.3,154.1 705.8,155.4 707.1,156.8 708.4,158.2 709.5,159.6 710.5,161.1 711.5,162.6 712.3,164.1 713.1,165.6 713.7,167.1 714.2,168.6 714.6,170.2 714.9,171.7 715.1,173.3 715.1,174.8 715.1,176.4 714.9,178.0 714.6,179.5 714.2,181.1 713.7,182.7 713.0,184.2 712.3,185.8 711.4,187.3 710.4,188.8 709.3,190.3 708.0,191.8 706.7,193.3" fill="none" stroke="#5282bf" stroke-width="2.6" stroke-linejoin="round" clip-path="url(#b_c0)" opacity="0.8"/>
<polygon points="578.3,174.9 485.3,176.6 486.4,195.1 578.6,193.4" fill="#1b4755" stroke="#1b4755" stroke-width="0.4"/>
<polygon points="485.3,176.6 485.4,176.1 485.5,175.7 485.5,175.3 485.6,174.9 486.7,193.4 486.6,193.8 486.5,194.2 486.5,194.7 486.4,195.1" fill="url(#b_r4_267)" stroke="url(#b_r4_267)" stroke-width="0.4"/>
<polygon points="578.3,174.9 485.3,176.6 485.6,174.9 486.0,173.3 486.4,171.7 487.0,170.1 487.8,168.6 488.6,167.0 489.5,165.5 490.6,163.9 491.7,162.4 493.0,161.0 494.4,159.5" fill="#3a9ab8" stroke="#3a9ab8" stroke-width="0.4"/>
<polygon points="578.3,174.9 485.3,176.6 485.6,174.9 486.0,173.3 486.4,171.7 487.0,170.1 487.8,168.6 488.6,167.0 489.5,165.5 490.6,163.9 491.7,162.4 493.0,161.0 494.4,159.5" fill="none" stroke="#46afd0" stroke-width="2.6" stroke-linejoin="round" clip-path="url(#b_c4)" opacity="0.8"/>
<polygon points="579.5,181.0 503.6,212.1 504.6,231.4 579.7,199.6" fill="#3c2d4f" stroke="#3c2d4f" stroke-width="0.4"/>
<polygon points="503.6,212.1 501.6,210.7 499.7,209.3 497.9,207.9 496.3,206.5 494.7,205.0 493.3,203.5 492.0,201.9 490.8,200.4 489.7,198.8 488.7,197.3 487.9,195.7 487.2,194.1 486.6,192.4 486.1,190.8 485.7,189.2 485.5,187.6 485.4,186.0 485.4,184.3 485.5,182.7 486.6,201.4 486.5,203.0 486.5,204.7 486.6,206.4 486.8,208.0 487.2,209.7 487.7,211.3 488.3,213.0 489.0,214.6 489.8,216.2 490.8,217.8 491.8,219.4 493.0,221.0 494.3,222.6 495.7,224.1 497.3,225.6 498.9,227.1 500.7,228.6 502.6,230.0 504.6,231.4" fill="url(#b_r3_229)" stroke="url(#b_r3_229)" stroke-width="0.4"/>
<polygon points="579.5,181.0 503.6,212.1 501.6,210.7 499.7,209.3 497.9,207.9 496.3,206.5 494.7,205.0 493.3,203.5 492.0,201.9 490.8,200.4 489.7,198.8 488.7,197.3 487.9,195.7 487.2,194.1 486.6,192.4 486.1,190.8 485.7,189.2 485.5,187.6 485.4,186.0 485.4,184.3 485.5,182.7" fill="#74589a" stroke="#74589a" stroke-width="0.4"/>
<polygon points="579.5,181.0 503.6,212.1 501.6,210.7 499.7,209.3 497.9,207.9 496.3,206.5 494.7,205.0 493.3,203.5 492.0,201.9 490.8,200.4 489.7,198.8 488.7,197.3 487.9,195.7 487.2,194.1 486.6,192.4 486.1,190.8 485.7,189.2 485.5,187.6 485.4,186.0 485.4,184.3 485.5,182.7" fill="none" stroke="#8667af" stroke-width="2.6" stroke-linejoin="round" clip-path="url(#b_c3)" opacity="0.8"/>
<polygon points="615.0,186.7 621.7,236.7 621.5,256.5 614.9,205.5" fill="#471c1b" stroke="#471c1b" stroke-width="0.4"/>
<polygon points="701.0,210.3 699.5,211.9 697.8,213.4 696.0,214.9 694.1,216.3 692.1,217.7 690.0,219.1 687.8,220.5 685.4,221.8 683.0,223.1 680.4,224.3 677.8,225.5 675.0,226.6 672.2,227.7 669.3,228.7 666.2,229.7 663.2,230.6 660.0,231.5 656.8,232.3 653.5,233.0 650.1,233.7 646.7,234.3 643.2,234.8 639.7,235.3 636.2,235.7 632.6,236.1 629.0,236.4 625.4,236.6 621.7,236.7 621.5,256.5 625.1,256.3 628.7,256.1 632.3,255.8 635.8,255.5 639.4,255.1 642.8,254.6 646.3,254.0 649.6,253.4 653.0,252.7 656.2,251.9 659.4,251.1 662.5,250.3 665.6,249.3 668.6,248.3 671.5,247.3 674.3,246.2 677.0,245.0 679.6,243.8 682.2,242.6 684.6,241.3 686.9,239.9 689.1,238.6 691.2,237.1 693.2,235.7 695.1,234.2 696.9,232.7 698.5,231.1 700.1,229.6" fill="url(#b_r1_119)" stroke="url(#b_r1_119)" stroke-width="0.4"/>
<polygon points="615.0,186.7 701.0,210.3 699.5,211.9 697.8,213.4 696.0,214.9 694.1,216.3 692.1,217.7 690.0,219.1 687.8,220.5 685.4,221.8 683.0,223.1 680.4,224.3 677.8,225.5 675.0,226.6 672.2,227.7 669.3,228.7 666.2,229.7 663.2,230.6 660.0,231.5 656.8,232.3 653.5,233.0 650.1,233.7 646.7,234.3 643.2,234.8 639.7,235.3 636.2,235.7 632.6,236.1 629.0,236.4 625.4,236.6 621.7,236.7" fill="#a94341" stroke="#a94341" stroke-width="0.4"/>
<polygon points="615.0,186.7 701.0,210.3 699.5,211.9 697.8,213.4 696.0,214.9 694.1,216.3 692.1,217.7 690.0,219.1 687.8,220.5 685.4,221.8 683.0,223.1 680.4,224.3 677.8,225.5 675.0,226.6 672.2,227.7 669.3,228.7 666.2,229.7 663.2,230.6 660.0,231.5 656.8,232.3 653.5,233.0 650.1,233.7 646.7,234.3 643.2,234.8 639.7,235.3 636.2,235.7 632.6,236.1 629.0,236.4 625.4,236.6 621.7,236.7" fill="none" stroke="#c0504e" stroke-width="2.6" stroke-linejoin="round" clip-path="url(#b_c1)" opacity="0.8"/>
<polygon points="597.4,237.7 593.8,237.8 590.1,237.8 586.5,237.7 582.9,237.6 579.4,237.4 575.8,237.2 572.3,236.8 568.7,236.4 565.3,236.0 561.8,235.4 558.5,234.9 555.1,234.2 551.8,233.5 548.6,232.7 545.5,231.9 542.4,231.0 539.4,230.1 536.5,229.1 533.6,228.0 530.9,226.9 528.2,225.8 525.7,224.6 523.2,223.4 520.8,222.1 518.6,220.8 516.4,219.4 517.2,238.8 519.4,240.2 521.6,241.6 524.0,242.9 526.4,244.1 529.0,245.3 531.6,246.5 534.3,247.6 537.1,248.7 540.0,249.7 543.0,250.7 546.1,251.6 549.2,252.4 552.4,253.2 555.6,253.9 558.9,254.6 562.2,255.2 565.6,255.7 569.1,256.2 572.6,256.6 576.1,256.9 579.6,257.2 583.1,257.4 586.7,257.5 590.3,257.6 593.8,257.6 597.4,257.5" fill="url(#b_r2_176)" stroke="url(#b_r2_176)" stroke-width="0.4"/>
<polygon points="592.4,187.6 597.4,237.7 593.8,237.8 590.1,237.8 586.5,237.7 582.9,237.6 579.4,237.4 575.8,237.2 572.3,236.8 568.7,236.4 565.3,236.0 561.8,235.4 558.5,234.9 555.1,234.2 551.8,233.5 548.6,232.7 545.5,231.9 542.4,231.0 539.4,230.1 536.5,229.1 533.6,228.0 530.9,226.9 528.2,225.8 525.7,224.6 523.2,223.4 520.8,222.1 518.6,220.8 516.4,219.4" fill="#8aa650" stroke="#8aa650" stroke-width="0.4"/>
<polygon points="592.4,187.6 597.4,237.7 593.8,237.8 590.1,237.8 586.5,237.7 582.9,237.6 579.4,237.4 575.8,237.2 572.3,236.8 568.7,236.4 565.3,236.0 561.8,235.4 558.5,234.9 555.1,234.2 551.8,233.5 548.6,232.7 545.5,231.9 542.4,231.0 539.4,230.1 536.5,229.1 533.6,228.0 530.9,226.9 528.2,225.8 525.7,224.6 523.2,223.4 520.8,222.1 518.6,220.8 516.4,219.4" fill="none" stroke="#9ebd5e" stroke-width="2.6" stroke-linejoin="round" clip-path="url(#b_c2)" opacity="0.8"/>
<polygon points="222.1,535.6 219.1,489.8 219.1,509.8 222.1,556.8" fill="#454f35" stroke="#454f35" stroke-width="0.4"/>
<polygon points="222.1,535.6 219.1,489.8 219.8,489.8 220.6,489.8 221.3,489.8 222.1,489.8" fill="#b4d08c" stroke="#b4d08c" stroke-width="0.4"/>
<polygon points="222.1,535.6 219.1,489.8 219.8,489.8 220.6,489.8 221.3,489.8 222.1,489.8" fill="none" stroke="#cceba0" stroke-width="2.6" stroke-linejoin="round" clip-path="url(#c_c14)" opacity="0.8"/>
<polygon points="221.0,535.6 213.5,489.9 213.6,510.0 221.0,556.8" fill="#513537" stroke="#513537" stroke-width="0.4"/>
<polygon points="221.0,535.6 213.5,489.9 214.6,489.9 215.8,489.8 216.9,489.8 218.0,489.8" fill="#d48a90" stroke="#d48a90" stroke-width="0.4"/>
<polygon points="221.0,535.6 213.5,489.9 214.6,489.9 215.8,489.8 216.9,489.8 218.0,489.8" fill="none" stroke="#ef9ea4" stroke-width="2.6" stroke-linejoin="round" clip-path="url(#c_c13)" opacity="0.8"/>
<polygon points="219.0,535.7 202.6,490.5 202.8,510.6 219.1,556.9" fill="#364053" stroke="#364053" stroke-width="0.4"/>
<polygon points="219.0,535.7 202.6,490.5 204.9,490.3 207.2,490.2 209.4,490.1 211.7,490.0" fill="#8ca6d8" stroke="#8ca6d8" stroke-width="0.4"/>
<polygon points="219.0,535.7 202.6,490.5 204.9,490.3 207.2,490.2 209.4,490.1 211.7,490.0" fill="none" stroke="#a0bdf4" stroke-width="2.6" stroke-linejoin="round" clip-path="url(#c_c12)" opacity="0.8"/>
<polygon points="215.6,536.0 184.6,492.4 185.0,512.5 215.7,557.2" fill="#5d3713" stroke="#5d3713" stroke-width="0.4"/>
<polygon points="215.6,536.0 184.6,492.4 188.3,491.9 192.0,491.4 195.7,491.1 199.5,490.7" fill="#ef8e30" stroke="#ef8e30" stroke-width="0.4"/>
<polygon points="215.6,536.0 184.6,492.4 188.3,491.9 192.0,491.4 195.7,491.1 199.5,490.7" fill="none" stroke="#ffa23b" stroke-width="2.6" stroke-linejoin="round" clip-path="url(#c_c11)" opacity="0.8"/>
<polygon points="211.5,536.7 166.5,495.7 167.0,515.9 211.6,557.9" fill="#15414d" stroke="#15414d" stroke-width="0.4"/>
<polygon points="211.5,536.7 166.5,495.7 170.0,494.9 173.6,494.2 177.1,493.6 180.8,493.0" fill="#36a6c6" stroke="#36a6c6" stroke-width="0.4"/>
<polygon points="211.5,536.7 166.5,495.7 170.0,494.9 173.6,494.2 177.1,493.6 180.8,493.0" fill="none" stroke="#41bde0" stroke-width="2.6" stroke-linejoin="round" clip-path="url(#c_c10)" opacity="0.8"/>
<polygon points="206.5,538.0 140.8,503.1 141.6,523.5 206.7,559.2" fill="#302141" stroke="#302141" stroke-width="0.4"/>
<polygon points="206.5,538.0 140.8,503.1 143.6,502.1 146.5,501.1 149.5,500.1 152.5,499.2 155.5,498.3 158.6,497.5 161.8,496.8" fill="#7a52a4" stroke="#7a52a4" stroke-width="0.4"/>
<polygon points="206.5,538.0 140.8,503.1 143.6,502.1 146.5,501.1 149.5,500.1 152.5,499.2 155.5,498.3 158.6,497.5 161.8,496.8" fill="none" stroke="#8c60ba" stroke-width="2.6" stroke-linejoin="round" clip-path="url(#c_c9)" opacity="0.8"/>
<polygon points="238.7,538.0 335.0,522.1 333.8,543.0 238.5,559.3" fill="#1a2b40" stroke="#1a2b40" stroke-width="0.4"/>
<polygon points="238.7,538.0 237.5,491.9 240.9,491.9 244.3,492.0 247.8,492.1 251.2,492.3 254.6,492.5 258.0,492.8 261.4,493.2 264.7,493.6 268.1,494.0 271.4,494.5 274.6,495.1 277.9,495.7 281.1,496.3 284.2,497.0 287.3,497.8 290.4,498.6 293.4,499.5 296.3,500.4 299.2,501.3 302.1,502.3 304.8,503.3 307.5,504.4 310.1,505.6 312.7,506.7 315.2,507.9 317.6,509.2 319.9,510.5 322.1,511.8 324.2,513.2 326.3,514.6 328.2,516.0 330.0,517.5 331.8,519.0 333.4,520.6 335.0,522.1" fill="#4571a8" stroke="#4571a8" stroke-width="0.4"/>
<polygon points="238.7,538.0 237.5,491.9 240.9,491.9 244.3,492.0 247.8,492.1 251.2,492.3 254.6,492.5 258.0,492.8 261.4,493.2 264.7,493.6 268.1,494.0 271.4,494.5 274.6,495.1 277.9,495.7 281.1,496.3 284.2,497.0 287.3,497.8 290.4,498.6 293.4,499.5 296.3,500.4 299.2,501.3 302.1,502.3 304.8,503.3 307.5,504.4 310.1,505.6 312.7,506.7 315.2,507.9 317.6,509.2 319.9,510.5 322.1,511.8 324.2,513.2 326.3,514.6 328.2,516.0 330.0,517.5 331.8,519.0 333.4,520.6 335.0,522.1" fill="none" stroke="#5282bf" stroke-width="2.6" stroke-linejoin="round" clip-path="url(#c_c0)" opacity="0.8"/>
<polygon points="201.1,540.3 116.8,514.4 117.9,535.0 201.3,561.6" fill="#394c1c" stroke="#394c1c" stroke-width="0.4"/>
<polygon points="201.1,540.3 116.8,514.4 119.2,512.9 121.7,511.5 124.3,510.1 127.0,508.8 129.7,507.5 132.6,506.3 135.5,505.2" fill="#8cba44" stroke="#8cba44" stroke-width="0.4"/>
<polygon points="201.1,540.3 116.8,514.4 119.2,512.9 121.7,511.5 124.3,510.1 127.0,508.8 129.7,507.5 132.6,506.3 135.5,505.2" fill="none" stroke="#a0d351" stroke-width="2.6" stroke-linejoin="round" clip-path="url(#c_c8)" opacity="0.8"/>
<polygon points="196.7,543.6 96.7,531.0 98.0,552.1 197.0,564.9" fill="#521c1b" stroke="#521c1b" stroke-width="0.4"/>
<polygon points="196.7,543.6 96.7,531.0 98.2,529.2 99.8,527.4 101.6,525.6 103.4,523.9 105.5,522.2 107.6,520.6 109.8,519.0 112.2,517.4" fill="#c44341" stroke="#c44341" stroke-width="0.4"/>
<polygon points="196.7,543.6 96.7,531.0 98.2,529.2 99.8,527.4 101.6,525.6 103.4,523.9 105.5,522.2 107.6,520.6 109.8,519.0 112.2,517.4" fill="none" stroke="#de504e" stroke-width="2.6" stroke-linejoin="round" clip-path="url(#c_c7)" opacity="0.8"/>
<polygon points="194.3,547.8 87.1,551.6 88.5,573.2 194.6,569.2" fill="#19304d" stroke="#19304d" stroke-width="0.4"/>
<polygon points="87.1,551.6 87.2,550.7 87.3,549.7 87.4,548.7 87.6,547.8 89.0,569.2 88.8,570.2 88.7,571.2 88.6,572.2 88.5,573.2" fill="url(#c_r6_265)" stroke="url(#c_r6_265)" stroke-width="0.4"/>
<polygon points="194.3,547.8 87.1,551.6 87.3,549.7 87.6,547.8 88.1,546.0 88.7,544.1 89.4,542.3 90.3,540.4 91.3,538.6 92.4,536.8 93.7,535.1" fill="#3f78c0" stroke="#3f78c0" stroke-width="0.4"/>
<polygon points="194.3,547.8 87.1,551.6 87.3,549.7 87.6,547.8 88.1,546.0 88.7,544.1 89.4,542.3 90.3,540.4 91.3,538.6 92.4,536.8 93.7,535.1" fill="none" stroke="#4b8ad9" stroke-width="2.6" stroke-linejoin="round" clip-path="url(#c_c6)" opacity="0.8"/>
<polygon points="250.5,551.4 339.7,586.2 338.4,608.5 250.2,573.0" fill="#401919" stroke="#401919" stroke-width="0.4"/>
<polygon points="357.8,551.4 358.1,553.3 358.3,555.2 358.4,557.1 358.3,559.0 358.1,560.9 357.7,562.8 357.2,564.7 356.5,566.6 355.7,568.5 354.7,570.3 353.6,572.2 352.4,574.0 351.0,575.8 349.5,577.6 347.8,579.4 346.0,581.1 344.0,582.9 341.9,584.5 339.7,586.2 338.4,608.5 340.6,606.8 342.7,605.1 344.6,603.4 346.4,601.6 348.1,599.8 349.6,598.0 351.0,596.1 352.2,594.2 353.3,592.3 354.3,590.4 355.1,588.5 355.7,586.6 356.3,584.6 356.6,582.7 356.9,580.7 357.0,578.8 356.9,576.8 356.7,574.9 356.4,573.0" fill="url(#c_r1_90)" stroke="url(#c_r1_90)" stroke-width="0.4"/>
<polygon points="250.5,551.4 348.5,534.8 350.0,536.5 351.4,538.2 352.6,539.9 353.8,541.6 354.8,543.4 355.7,545.1 356.4,546.9 357.1,548.7 357.6,550.5 358.0,552.4 358.3,554.2 358.4,556.0 358.4,557.9 358.2,559.7 357.9,561.6 357.5,563.4 357.0,565.3 356.3,567.1 355.4,569.0 354.5,570.8 353.4,572.6 352.1,574.4 350.8,576.1 349.2,577.9 347.6,579.6 345.8,581.3 343.9,582.9 341.8,584.6 339.7,586.2" fill="#a94341" stroke="#a94341" stroke-width="0.4"/>
<polygon points="250.5,551.4 348.5,534.8 350.0,536.5 351.4,538.2 352.6,539.9 353.8,541.6 354.8,543.4 355.7,545.1 356.4,546.9 357.1,548.7 357.6,550.5 358.0,552.4 358.3,554.2 358.4,556.0 358.4,557.9 358.2,559.7 357.9,561.6 357.5,563.4 357.0,565.3 356.3,567.1 355.4,569.0 354.5,570.8 353.4,572.6 352.1,574.4 350.8,576.1 349.2,577.9 347.6,579.6 345.8,581.3 343.9,582.9 341.8,584.6 339.7,586.2" fill="none" stroke="#c0504e" stroke-width="2.6" stroke-linejoin="round" clip-path="url(#c_c1)" opacity="0.8"/>
<polygon points="195.0,552.7 94.2,577.1 95.6,599.2 195.3,574.3" fill="#653b15" stroke="#653b15" stroke-width="0.4"/>
<polygon points="94.2,577.1 92.9,575.3 91.6,573.4 90.5,571.6 89.6,569.7 88.8,567.9 88.1,566.0 87.6,564.1 87.3,562.2 87.0,560.4 86.9,558.5 87.0,556.6 88.4,578.3 88.3,580.2 88.4,582.1 88.7,584.0 89.1,586.0 89.6,587.9 90.2,589.8 91.0,591.7 92.0,593.6 93.0,595.5 94.3,597.4 95.6,599.2" fill="url(#c_r5_243)" stroke="url(#c_r5_243)" stroke-width="0.4"/>
<polygon points="195.0,552.7 94.2,577.1 92.9,575.3 91.6,573.4 90.5,571.6 89.6,569.7 88.8,567.9 88.1,566.0 87.6,564.1 87.3,562.2 87.0,560.4 86.9,558.5 87.0,556.6" fill="#e2832f" stroke="#e2832f" stroke-width="0.4"/>
<polygon points="195.0,552.7 94.2,577.1 92.9,575.3 91.6,573.4 90.5,571.6 89.6,569.7 88.8,567.9 88.1,566.0 87.6,564.1 87.3,562.2 87.0,560.4 86.9,558.5 87.0,556.6" fill="none" stroke="#ff963a" stroke-width="2.6" stroke-linejoin="round" clip-path="url(#c_c5)" opacity="0.8"/>
<polygon points="200.5,558.0 130.1,603.8 131.1,626.5 200.7,579.7" fill="#2d778e" stroke="#2d778e" stroke-width="0.4"/>
<polygon points="130.1,603.8 126.9,602.5 123.9,601.1 121.0,599.6 118.2,598.1 115.5,596.6 113.0,595.0 110.6,593.4 108.3,591.7 106.2,590.0 104.2,588.2 102.3,586.4 100.6,584.6 99.1,582.8 100.4,605.0 102.0,606.9 103.7,608.8 105.5,610.6 107.5,612.4 109.6,614.1 111.8,615.9 114.2,617.5 116.7,619.2 119.4,620.7 122.1,622.3 125.0,623.8 128.0,625.2 131.1,626.5" fill="url(#c_r4_216)" stroke="url(#c_r4_216)" stroke-width="0.4"/>
<polygon points="200.5,558.0 130.1,603.8 126.9,602.5 123.9,601.1 121.0,599.6 118.2,598.1 115.5,596.6 113.0,595.0 110.6,593.4 108.3,591.7 106.2,590.0 104.2,588.2 102.3,586.4 100.6,584.6 99.1,582.8" fill="#3a9ab8" stroke="#3a9ab8" stroke-width="0.4"/>
<polygon points="200.5,558.0 130.1,603.8 126.9,602.5 123.9,601.1 121.0,599.6 118.2,598.1 115.5,596.6 113.0,595.0 110.6,593.4 108.3,591.7 106.2,590.0 104.2,588.2 102.3,586.4 100.6,584.6 99.1,582.8" fill="none" stroke="#46afd0" stroke-width="2.6" stroke-linejoin="round" clip-path="url(#c_c4)" opacity="0.8"/>
<polygon points="324.1,597.7 321.7,599.3 319.2,600.9 316.5,602.4 313.7,603.9 310.8,605.4 307.8,606.8 304.7,608.1 301.4,609.4 298.1,610.6 294.7,611.7 291.1,612.8 287.5,613.8 283.8,614.8 280.0,615.7 276.2,616.5 272.2,617.2 268.3,617.9 264.2,618.5 260.1,619.0 256.0,619.4 251.9,619.8 247.7,620.1 243.5,620.3 239.3,620.4 235.0,620.4 230.8,620.3 230.7,643.4 234.9,643.5 239.1,643.4 243.2,643.3 247.4,643.1 251.5,642.8 255.6,642.5 259.7,642.0 263.7,641.5 267.7,640.9 271.7,640.2 275.5,639.5 279.4,638.7 283.1,637.8 286.8,636.8 290.3,635.7 293.8,634.6 297.2,633.5 300.5,632.2 303.7,630.9 306.8,629.5 309.8,628.1 312.7,626.7 315.5,625.1 318.1,623.6 320.6,621.9 323.0,620.3" fill="url(#c_r2_129)" stroke="url(#c_r2_129)" stroke-width="0.4"/>
<polygon points="234.4,561.8 324.1,597.7 321.7,599.3 319.2,600.9 316.5,602.4 313.7,603.9 310.8,605.4 307.8,606.8 304.7,608.1 301.4,609.4 298.1,610.6 294.7,611.7 291.1,612.8 287.5,613.8 283.8,614.8 280.0,615.7 276.2,616.5 272.2,617.2 268.3,617.9 264.2,618.5 260.1,619.0 256.0,619.4 251.9,619.8 247.7,620.1 243.5,620.3 239.3,620.4 235.0,620.4 230.8,620.3" fill="#8aa650" stroke="#8aa650" stroke-width="0.4"/>
<polygon points="234.4,561.8 324.1,597.7 321.7,599.3 319.2,600.9 316.5,602.4 313.7,603.9 310.8,605.4 307.8,606.8 304.7,608.1 301.4,609.4 298.1,610.6 294.7,611.7 291.1,612.8 287.5,613.8 283.8,614.8 280.0,615.7 276.2,616.5 272.2,617.2 268.3,617.9 264.2,618.5 260.1,619.0 256.0,619.4 251.9,619.8 247.7,620.1 243.5,620.3 239.3,620.4 235.0,620.4 230.8,620.3" fill="none" stroke="#9ebd5e" stroke-width="2.6" stroke-linejoin="round" clip-path="url(#c_c2)" opacity="0.8"/>
<polygon points="212.9,562.2 207.4,620.9 207.6,644.0 213.0,584.0" fill="#5d467b" stroke="#5d467b" stroke-width="0.4"/>
<polygon points="207.4,620.9 203.2,620.8 199.1,620.6 195.0,620.3 190.9,619.9 186.8,619.5 182.8,619.0 178.8,618.4 174.9,617.7 171.0,617.0 167.2,616.2 163.5,615.3 159.8,614.4 156.3,613.3 152.8,612.3 149.4,611.1 146.1,609.9 142.9,608.7 143.8,631.5 147.0,632.8 150.2,634.0 153.6,635.2 157.0,636.3 160.6,637.3 164.2,638.3 167.9,639.2 171.6,640.0 175.4,640.7 179.3,641.4 183.2,642.0 187.2,642.5 191.2,643.0 195.3,643.4 199.4,643.6 203.4,643.8 207.6,644.0" fill="url(#c_r3_182)" stroke="url(#c_r3_182)" stroke-width="0.4"/>
<polygon points="212.9,562.2 207.4,620.9 203.2,620.8 199.1,620.6 195.0,620.3 190.9,619.9 186.8,619.5 182.8,619.0 178.8,618.4 174.9,617.7 171.0,617.0 167.2,616.2 163.5,615.3 159.8,614.4 156.3,613.3 152.8,612.3 149.4,611.1 146.1,609.9 142.9,608.7" fill="#74589a" stroke="#74589a" stroke-width="0.4"/>
<polygon points="212.9,562.2 207.4,620.9 203.2,620.8 199.1,620.6 195.0,620.3 190.9,619.9 186.8,619.5 182.8,619.0 178.8,618.4 174.9,617.7 171.0,617.0 167.2,616.2 163.5,615.3 159.8,614.4 156.3,613.3 152.8,612.3 149.4,611.1 146.1,609.9 142.9,608.7" fill="none" stroke="#8667af" stroke-width="2.6" stroke-linejoin="round" clip-path="url(#c_c3)" opacity="0.8"/>
<polygon points="591.8,547.7 582.4,506.6 582.5,524.6 591.8,567.1" fill="#2e233e" stroke="#2e233e" stroke-width="0.4"/>
<polygon points="591.8,547.7 600.6,506.5 600.5,524.5 591.8,567.1" fill="#574274" stroke="#574274" stroke-width="0.4"/>
<polygon points="591.8,547.7 582.4,506.6 586.0,506.4 589.7,506.4 593.3,506.4 597.0,506.4 600.6,506.5" fill="#74589a" stroke="#74589a" stroke-width="0.4"/>
<polygon points="591.8,547.7 582.4,506.6 586.0,506.4 589.7,506.4 593.3,506.4 597.0,506.4 600.6,506.5" fill="none" stroke="#8667af" stroke-width="2.6" stroke-linejoin="round" clip-path="url(#d_c3)" opacity="0.8"/>
<polygon points="596.4,547.9 615.4,507.4 615.2,525.4 596.3,567.3" fill="#2c748a" stroke="#2c748a" stroke-width="0.4"/>
<polygon points="596.4,547.9 604.8,506.7 607.5,506.8 610.1,507.0 612.8,507.1 615.4,507.4" fill="#3a9ab8" stroke="#3a9ab8" stroke-width="0.4"/>
<polygon points="596.4,547.9 604.8,506.7 607.5,506.8 610.1,507.0 612.8,507.1 615.4,507.4" fill="none" stroke="#46afd0" stroke-width="2.6" stroke-linejoin="round" clip-path="url(#d_c4)" opacity="0.8"/>
<polygon points="584.3,548.2 547.2,510.2 547.7,528.3 584.4,567.6" fill="#3a4621" stroke="#3a4621" stroke-width="0.4"/>
<polygon points="584.3,548.2 547.2,510.2 550.2,509.6 553.3,509.1 556.4,508.7 559.6,508.3 562.8,507.9 566.0,507.6 569.2,507.3 572.4,507.1 575.6,506.9" fill="#8aa650" stroke="#8aa650" stroke-width="0.4"/>
<polygon points="584.3,548.2 547.2,510.2 550.2,509.6 553.3,509.1 556.4,508.7 559.6,508.3 562.8,507.9 566.0,507.6 569.2,507.3 572.4,507.1 575.6,506.9" fill="none" stroke="#9ebd5e" stroke-width="2.6" stroke-linejoin="round" clip-path="url(#d_c2)" opacity="0.8"/>
<polygon points="599.7,548.2 628.3,508.8 627.9,526.9 599.6,567.6" fill="#aa6223" stroke="#aa6223" stroke-width="0.4"/>
<polygon points="599.7,548.2 618.4,507.6 620.9,507.9 623.4,508.2 625.8,508.5 628.3,508.8" fill="#e2832f" stroke="#e2832f" stroke-width="0.4"/>
<polygon points="599.7,548.2 618.4,507.6 620.9,507.9 623.4,508.2 625.8,508.5 628.3,508.8" fill="none" stroke="#ff963a" stroke-width="2.6" stroke-linejoin="round" clip-path="url(#d_c5)" opacity="0.8"/>
<polygon points="563.0,559.0 483.8,597.1 485.4,618.0 563.4,578.8" fill="#6b2b29" stroke="#6b2b29" stroke-width="0.4"/>
<polygon points="483.8,597.1 481.4,595.7 479.0,594.2 476.8,592.7 474.8,591.2 472.8,589.7 471.0,588.1 469.3,586.5 467.8,584.8 466.4,583.2 465.1,581.5 464.0,579.8 463.0,578.1 462.1,576.4 461.4,574.6 460.8,572.9 460.4,571.1 460.1,569.4 459.9,567.7 459.8,565.9 459.9,564.2 460.1,562.5 460.4,560.7 460.9,559.0 462.6,578.8 462.2,580.5 461.9,582.3 461.7,584.1 461.6,585.9 461.7,587.7 461.8,589.5 462.2,591.3 462.6,593.1 463.2,594.8 463.9,596.6 464.8,598.4 465.8,600.2 466.9,601.9 468.2,603.6 469.5,605.4 471.1,607.0 472.7,608.7 474.5,610.3 476.4,611.9 478.5,613.5 480.6,615.0 482.9,616.5 485.4,618.0" fill="url(#d_r1_223)" stroke="url(#d_r1_223)" stroke-width="0.4"/>
<polygon points="563.0,559.0 483.8,597.1 481.3,595.7 479.0,594.2 476.8,592.7 474.7,591.2 472.8,589.6 470.9,588.0 469.3,586.4 467.7,584.7 466.3,583.0 465.0,581.4 463.9,579.6 462.9,577.9 462.1,576.2 461.4,574.4 460.8,572.7 460.3,570.9 460.0,569.2 459.9,567.4 459.8,565.7 459.9,563.9 460.1,562.2 460.5,560.5 461.0,558.7 461.6,557.0 462.3,555.3 463.1,553.7 464.1,552.0 465.2,550.4 466.3,548.8 467.6,547.2 469.0,545.6 470.5,544.1 472.1,542.6 473.8,541.1 475.6,539.7 477.5,538.3 479.5,536.9 481.6,535.6 483.7,534.3 486.0,533.0 488.3,531.8 490.6,530.6 493.1,529.5 495.6,528.4 498.2,527.3 500.8,526.3 503.5,525.3 506.3,524.4 509.1,523.5 512.0,522.7 514.9,521.9 517.8,521.1 520.8,520.4 523.9,519.7 526.9,519.1" fill="#a94341" stroke="#a94341" stroke-width="0.4"/>
<polygon points="563.0,559.0 483.8,597.1 481.3,595.7 479.0,594.2 476.8,592.7 474.7,591.2 472.8,589.6 470.9,588.0 469.3,586.4 467.7,584.7 466.3,583.0 465.0,581.4 463.9,579.6 462.9,577.9 462.1,576.2 461.4,574.4 460.8,572.7 460.3,570.9 460.0,569.2 459.9,567.4 459.8,565.7 459.9,563.9 460.1,562.2 460.5,560.5 461.0,558.7 461.6,557.0 462.3,555.3 463.1,553.7 464.1,552.0 465.2,550.4 466.3,548.8 467.6,547.2 469.0,545.6 470.5,544.1 472.1,542.6 473.8,541.1 475.6,539.7 477.5,538.3 479.5,536.9 481.6,535.6 483.7,534.3 486.0,533.0 488.3,531.8 490.6,530.6 493.1,529.5 495.6,528.4 498.2,527.3 500.8,526.3 503.5,525.3 506.3,524.4 509.1,523.5 512.0,522.7 514.9,521.9 517.8,521.1 520.8,520.4 523.9,519.7 526.9,519.1" fill="none" stroke="#c0504e" stroke-width="2.6" stroke-linejoin="round" clip-path="url(#d_c1)" opacity="0.8"/>
<polygon points="721.9,568.7 722.4,570.5 722.7,572.3 722.9,574.1 723.0,576.0 722.9,577.8 722.7,579.6 722.4,581.5 721.9,583.3 721.3,585.1 720.5,586.9 719.6,588.7 718.6,590.5 717.4,592.3 716.1,594.1 714.7,595.8 713.1,597.6 711.3,599.3 709.4,600.9 707.4,602.6 705.3,604.2 703.0,605.7 700.6,607.3 698.1,608.7 695.4,610.2 692.6,611.6 689.7,612.9 686.7,614.2 683.6,615.4 680.3,616.6 677.0,617.7 673.5,618.7 670.0,619.7 666.4,620.6 662.7,621.5 658.9,622.2 655.1,622.9 651.2,623.6 647.2,624.1 643.2,624.6 639.1,625.0 635.1,625.3 630.9,625.5 626.8,625.7 622.6,625.8 618.5,625.8 614.3,625.7 610.1,625.5 606.0,625.3 601.9,624.9 597.8,624.5 593.7,624.1 589.7,623.5 585.7,622.9 581.8,622.2 578.0,621.4 574.2,620.5 570.5,619.6 566.8,618.6 563.3,617.6 559.8,616.5 556.4,615.3 553.2,614.1 550.0,612.8 547.0,611.4 544.0,610.0 541.2,608.6 542.0,629.8 544.8,631.3 547.6,632.7 550.7,634.1 553.8,635.4 557.0,636.7 560.3,637.9 563.7,639.1 567.2,640.1 570.8,641.2 574.4,642.1 578.2,643.0 582.0,643.8 585.8,644.5 589.7,645.1 593.7,645.7 597.7,646.2 601.7,646.6 605.8,647.0 609.9,647.2 614.0,647.4 618.1,647.5 622.2,647.5 626.3,647.4 630.3,647.2 634.4,647.0 638.4,646.7 642.4,646.3 646.4,645.8 650.3,645.2 654.1,644.6 657.9,643.9 661.6,643.1 665.3,642.2 668.8,641.3 672.3,640.3 675.7,639.2 679.0,638.0 682.2,636.8 685.3,635.6 688.3,634.3 691.1,632.9 693.9,631.5 696.5,630.0 699.0,628.5 701.4,626.9 703.6,625.3 705.8,623.6 707.7,621.9 709.6,620.2 711.3,618.5 712.9,616.7 714.3,614.9 715.6,613.1 716.8,611.3 717.8,609.4 718.7,607.5 719.5,605.7 720.1,603.8 720.6,601.9 720.9,600.0 721.1,598.1 721.2,596.2 721.1,594.3 720.9,592.5 720.6,590.6 720.2,588.8" fill="url(#d_r0_90)" stroke="url(#d_r0_90)" stroke-width="0.4"/>
<polygon points="617.5,568.7 645.7,525.6 648.8,526.1 652.0,526.6 655.1,527.2 658.2,527.8 661.2,528.5 664.2,529.3 667.2,530.0 670.1,530.9 673.0,531.7 675.8,532.7 678.6,533.6 681.3,534.6 684.0,535.7 686.6,536.8 689.1,537.9 691.6,539.1 694.0,540.3 696.3,541.6 698.6,542.9 700.7,544.2 702.8,545.6 704.8,547.0 706.7,548.4 708.6,549.9 710.3,551.4 711.9,553.0 713.4,554.5 714.9,556.1 716.2,557.8 717.4,559.4 718.5,561.1 719.5,562.8 720.3,564.5 721.1,566.3 721.7,568.0 722.2,569.8 722.6,571.6 722.8,573.4 723.0,575.2 723.0,577.0 722.8,578.8 722.6,580.6 722.1,582.4 721.6,584.2 720.9,586.1 720.1,587.9 719.1,589.6 718.1,591.4 716.8,593.2 715.4,594.9 713.9,596.6 712.3,598.3 710.5,600.0 708.6,601.6 706.5,603.3 704.4,604.8 702.0,606.4 699.6,607.9 697.0,609.3 694.4,610.7 691.5,612.1 688.6,613.4 685.6,614.6 682.5,615.8 679.2,617.0 675.9,618.0 672.4,619.1 668.9,620.0 665.3,620.9 661.6,621.7 657.8,622.4 654.0,623.1 650.1,623.7 646.2,624.2 642.2,624.7 638.2,625.1 634.1,625.4 630.0,625.6 625.9,625.7 621.8,625.8 617.7,625.7 613.5,625.6 609.4,625.5 605.3,625.2 601.2,624.9 597.2,624.5 593.2,624.0 589.2,623.4 585.3,622.8 581.4,622.1 577.6,621.3 573.8,620.4 570.2,619.5 566.6,618.6 563.0,617.5 559.6,616.4 556.3,615.2 553.1,614.0 549.9,612.7 546.9,611.4 544.0,610.0 541.2,608.6" fill="#4571a8" stroke="#4571a8" stroke-width="0.4"/>
<polygon points="617.5,568.7 645.7,525.6 648.8,526.1 652.0,526.6 655.1,527.2 658.2,527.8 661.2,528.5 664.2,529.3 667.2,530.0 670.1,530.9 673.0,531.7 675.8,532.7 678.6,533.6 681.3,534.6 684.0,535.7 686.6,536.8 689.1,537.9 691.6,539.1 694.0,540.3 696.3,541.6 698.6,542.9 700.7,544.2 702.8,545.6 704.8,547.0 706.7,548.4 708.6,549.9 710.3,551.4 711.9,553.0 713.4,554.5 714.9,556.1 716.2,557.8 717.4,559.4 718.5,561.1 719.5,562.8 720.3,564.5 721.1,566.3 721.7,568.0 722.2,569.8 722.6,571.6 722.8,573.4 723.0,575.2 723.0,577.0 722.8,578.8 722.6,580.6 722.1,582.4 721.6,584.2 720.9,586.1 720.1,587.9 719.1,589.6 718.1,591.4 716.8,593.2 715.4,594.9 713.9,596.6 712.3,598.3 710.5,600.0 708.6,601.6 706.5,603.3 704.4,604.8 702.0,606.4 699.6,607.9 697.0,609.3 694.4,610.7 691.5,612.1 688.6,613.4 685.6,614.6 682.5,615.8 679.2,617.0 675.9,618.0 672.4,619.1 668.9,620.0 665.3,620.9 661.6,621.7 657.8,622.4 654.0,623.1 650.1,623.7 646.2,624.2 642.2,624.7 638.2,625.1 634.1,625.4 630.0,625.6 625.9,625.7 621.8,625.8 617.7,625.7 613.5,625.6 609.4,625.5 605.3,625.2 601.2,624.9 597.2,624.5 593.2,624.0 589.2,623.4 585.3,622.8 581.4,622.1 577.6,621.3 573.8,620.4 570.2,619.5 566.6,618.6 563.0,617.5 559.6,616.4 556.3,615.2 553.1,614.0 549.9,612.7 546.9,611.4 544.0,610.0 541.2,608.6" fill="none" stroke="#5282bf" stroke-width="2.6" stroke-linejoin="round" clip-path="url(#d_c0)" opacity="0.8"/>
<text x="66.2" y="24.2" font-family="Liberation Sans" font-size="10.40" text-anchor="start" font-weight="bold" textLength="226.2" lengthAdjust="spacingAndGlyphs" fill="#000">Global solar energy potential in&#160; kWh/kWp</text>
<rect x="10.2" y="6.7" width="7.8" height="7.4" fill="#4571a8"/>
<text x="22.4" y="14.3" font-family="Liberation Sans" font-size="11.90" text-anchor="start" textLength="31.5" lengthAdjust="spacingAndGlyphs" stroke="#000" stroke-width="0.10" fill="#000">China</text>
<rect x="10.2" y="41.1" width="7.8" height="7.4" fill="#a94341"/>
<text x="22.4" y="48.7" font-family="Liberation Sans" font-size="11.90" text-anchor="start" textLength="15.0" lengthAdjust="spacingAndGlyphs" stroke="#000" stroke-width="0.10" fill="#000">US</text>
<rect x="10.2" y="75.5" width="7.8" height="7.4" fill="#8aa650"/>
<text x="22.4" y="83.1" font-family="Liberation Sans" font-size="11.90" text-anchor="start" textLength="28.0" lengthAdjust="spacingAndGlyphs" stroke="#000" stroke-width="0.10" fill="#000">India</text>
<rect x="10.2" y="109.8" width="7.8" height="7.4" fill="#74589a"/>
<text x="22.4" y="117.4" font-family="Liberation Sans" font-size="11.90" text-anchor="start" textLength="32.5" lengthAdjust="spacingAndGlyphs" stroke="#000" stroke-width="0.10" fill="#000">Japan</text>
<rect x="10.2" y="144.2" width="7.8" height="7.4" fill="#3a9ab8"/>
<text x="22.4" y="151.8" font-family="Liberation Sans" font-size="11.90" text-anchor="start" textLength="52.0" lengthAdjust="spacingAndGlyphs" stroke="#000" stroke-width="0.10" fill="#000">Germany</text>
<rect x="10.2" y="178.6" width="7.8" height="7.4" fill="#e2832f"/>
<text x="22.4" y="186.2" font-family="Liberation Sans" font-size="11.90" text-anchor="start" textLength="24.2" lengthAdjust="spacingAndGlyphs" stroke="#000" stroke-width="0.10" fill="#000">Italy</text>
<rect x="10.2" y="213.0" width="7.8" height="7.4" fill="#8ca6d8"/>
<text x="22.4" y="220.6" font-family="Liberation Sans" font-size="11.90" text-anchor="start" textLength="33.0" lengthAdjust="spacingAndGlyphs" stroke="#000" stroke-width="0.10" fill="#000">South</text>
<rect x="10.2" y="247.4" width="7.8" height="7.4" fill="#d48a90"/>
<text x="22.4" y="255.0" font-family="Liberation Sans" font-size="11.90" text-anchor="start" textLength="38.0" lengthAdjust="spacingAndGlyphs" stroke="#000" stroke-width="0.10" fill="#000">France</text>
<rect x="10.2" y="281.7" width="7.8" height="7.4" fill="#b4d08c"/>
<text x="22.4" y="289.3" font-family="Liberation Sans" font-size="11.90" text-anchor="start" textLength="50.4" lengthAdjust="spacingAndGlyphs" stroke="#000" stroke-width="0.10" fill="#000">Australia</text>
<rect x="10.2" y="316.1" width="7.8" height="7.4" fill="#a898c8"/>
<text x="22.4" y="323.7" font-family="Liberation Sans" font-size="11.90" text-anchor="start" textLength="31.0" lengthAdjust="spacingAndGlyphs" stroke="#000" stroke-width="0.10" fill="#000">Spain</text>
<text x="22.4" y="237.6" font-family="Liberation Sans" font-size="11.90" text-anchor="start" textLength="33.0" lengthAdjust="spacingAndGlyphs" stroke="#000" stroke-width="0.10" fill="#000">Korea</text>
<text x="317.2" y="129.1" font-family="Liberation Sans" font-size="11.60" text-anchor="start" textLength="34.5" lengthAdjust="spacingAndGlyphs" stroke="#000" stroke-width="0.10" fill="#000">368.89</text>
<text x="243.2" y="108.8" font-family="Liberation Sans" font-size="11.60" text-anchor="start" textLength="28.2" lengthAdjust="spacingAndGlyphs" stroke="#000" stroke-width="0.10" fill="#000">23.31</text>
<text x="200.0" y="102.1" font-family="Liberation Sans" font-size="11.60" text-anchor="start" textLength="29.0" lengthAdjust="spacingAndGlyphs" stroke="#000" stroke-width="0.10" fill="#000">25.62</text>
<text x="162.7" y="96.7" font-family="Liberation Sans" font-size="11.60" text-anchor="start" textLength="21.3" lengthAdjust="spacingAndGlyphs" stroke="#000" stroke-width="0.10" fill="#000">25.8</text>
<text x="126.3" y="110.7" font-family="Liberation Sans" font-size="11.60" text-anchor="start" textLength="28.2" lengthAdjust="spacingAndGlyphs" stroke="#000" stroke-width="0.10" fill="#000">28.74</text>
<text x="96.3" y="122.2" font-family="Liberation Sans" font-size="11.60" text-anchor="start" textLength="28.0" lengthAdjust="spacingAndGlyphs" stroke="#000" stroke-width="0.10" fill="#000">31.81</text>
<text x="75.2" y="143.9" font-family="Liberation Sans" font-size="11.60" text-anchor="start" textLength="27.8" lengthAdjust="spacingAndGlyphs" stroke="#000" stroke-width="0.10" fill="#000">64.95</text>
<text x="55.4" y="203.7" font-family="Liberation Sans" font-size="11.60" text-anchor="start" textLength="28.5" lengthAdjust="spacingAndGlyphs" stroke="#000" stroke-width="0.10" fill="#000">82.25</text>
<text x="87.4" y="257.4" font-family="Liberation Sans" font-size="11.60" text-anchor="start" textLength="34.4" lengthAdjust="spacingAndGlyphs" stroke="#000" stroke-width="0.10" fill="#000">105.44</text>
<text x="203.7" y="287.9" font-family="Liberation Sans" font-size="11.60" text-anchor="start" textLength="34.7" lengthAdjust="spacingAndGlyphs" stroke="#000" stroke-width="0.10" fill="#000">149.18</text>
<polyline points="337.5,131.7 337.5,155.3" fill="none" stroke="#000" stroke-width="1.00"/>
<polyline points="241.0,107.5 234.9,107.5 214.8,118.9" fill="none" stroke="#000" stroke-width="1.00"/>
<polyline points="198.6,102.6 196.3,119.8" fill="none" stroke="#000" stroke-width="1.00"/>
<polyline points="177.5,98.4 177.5,122.2" fill="none" stroke="#000" stroke-width="1.00"/>
<polyline points="155.8,111.5 157.6,111.5 159.5,126.7" fill="none" stroke="#000" stroke-width="1.00"/>
<polyline points="126.3,122.5 133.7,122.5 140.5,133.5" fill="none" stroke="#000" stroke-width="1.00"/>
<polyline points="105.4,144.5 112.0,144.5 117.7,150.0" fill="none" stroke="#000" stroke-width="1.00"/>
<polyline points="86.0,203.5 92.8,203.5 102.9,178.0" fill="none" stroke="#000" stroke-width="1.00"/>
<polyline points="124.3,256.9 131.1,234.9" fill="none" stroke="#000" stroke-width="1.00"/>
<polyline points="232.5,256.9 232.5,274.9" fill="none" stroke="#000" stroke-width="1.00"/>
<text x="87.5" y="374.7" font-family="Liberation Serif" font-size="17.00" text-anchor="start" textLength="192.1" lengthAdjust="spacingAndGlyphs" fill="#000">(a)&#160; Source: ESMAP, (2020)</text>
<text x="433.7" y="24.6" font-family="Liberation Sans" font-size="10.60" text-anchor="start" font-weight="bold" textLength="253.4" lengthAdjust="spacingAndGlyphs" fill="#000">Global hydropower potentials in billion KWH/yr</text>
<rect x="396.9" y="35.2" width="7" height="7" fill="#4571a8"/>
<text x="407.2" y="42.5" font-family="Liberation Sans" font-size="11.00" text-anchor="start" textLength="28.2" lengthAdjust="spacingAndGlyphs" stroke="#000" stroke-width="0.10" fill="#000">China</text>
<rect x="396.9" y="67.7" width="7" height="7" fill="#a94341"/>
<text x="407.2" y="75.0" font-family="Liberation Sans" font-size="11.00" text-anchor="start" textLength="27.9" lengthAdjust="spacingAndGlyphs" stroke="#000" stroke-width="0.10" fill="#000">Brazil</text>
<rect x="396.9" y="100.1" width="7" height="7" fill="#8aa650"/>
<text x="407.2" y="107.4" font-family="Liberation Sans" font-size="11.00" text-anchor="start" textLength="38.0" lengthAdjust="spacingAndGlyphs" stroke="#000" stroke-width="0.10" fill="#000">Canada</text>
<rect x="396.9" y="132.6" width="7" height="7" fill="#74589a"/>
<text x="407.2" y="139.9" font-family="Liberation Sans" font-size="11.00" text-anchor="start" textLength="13.6" lengthAdjust="spacingAndGlyphs" stroke="#000" stroke-width="0.10" fill="#000">US</text>
<rect x="396.9" y="165.0" width="7" height="7" fill="#3a9ab8"/>
<text x="407.2" y="172.3" font-family="Liberation Sans" font-size="11.00" text-anchor="start" textLength="31.9" lengthAdjust="spacingAndGlyphs" stroke="#000" stroke-width="0.10" fill="#000">Russia</text>
<rect x="396.9" y="197.4" width="7" height="7" fill="#e2832f"/>
<text x="407.2" y="204.8" font-family="Liberation Sans" font-size="11.00" text-anchor="start" textLength="40.0" lengthAdjust="spacingAndGlyphs" stroke="#000" stroke-width="0.10" fill="#000">Norway</text>
<rect x="396.9" y="229.9" width="7" height="7" fill="#8ca6d8"/>
<text x="407.2" y="237.2" font-family="Liberation Sans" font-size="11.00" text-anchor="start" textLength="24.8" lengthAdjust="spacingAndGlyphs" stroke="#000" stroke-width="0.10" fill="#000">India</text>
<rect x="396.9" y="262.4" width="7" height="7" fill="#d48a90"/>
<text x="407.1" y="269.0" font-family="Liberation Sans" font-size="8.60" text-anchor="start" textLength="41.0" lengthAdjust="spacingAndGlyphs" stroke="#000" stroke-width="0.10" fill="#000">Venezuela</text>
<rect x="396.9" y="294.8" width="7" height="7" fill="#b4d08c"/>
<text x="407.2" y="302.1" font-family="Liberation Sans" font-size="11.00" text-anchor="start" textLength="40.2" lengthAdjust="spacingAndGlyphs" stroke="#000" stroke-width="0.10" fill="#000">Sweden</text>
<rect x="396.9" y="327.2" width="7" height="7" fill="#a898c8"/>
<text x="407.2" y="334.6" font-family="Liberation Sans" font-size="11.00" text-anchor="start" textLength="28.8" lengthAdjust="spacingAndGlyphs" stroke="#000" stroke-width="0.10" fill="#000">Japan</text>
<text x="707.7" y="151.0" font-family="Liberation Sans" font-size="11.10" text-anchor="start" textLength="18.4" lengthAdjust="spacingAndGlyphs" stroke="#000" stroke-width="0.10" fill="#000">856</text>
<text x="625.4" y="114.1" font-family="Liberation Sans" font-size="11.10" text-anchor="start" textLength="12.0" lengthAdjust="spacingAndGlyphs" stroke="#000" stroke-width="0.10" fill="#000">74</text>
<text x="582.8" y="112.0" font-family="Liberation Sans" font-size="11.10" text-anchor="start" textLength="13.1" lengthAdjust="spacingAndGlyphs" stroke="#000" stroke-width="0.10" fill="#000">78</text>
<text x="542.7" y="109.5" font-family="Liberation Sans" font-size="11.10" text-anchor="start" textLength="13.1" lengthAdjust="spacingAndGlyphs" stroke="#000" stroke-width="0.10" fill="#000">81</text>
<text x="505.5" y="119.1" font-family="Liberation Sans" font-size="11.10" text-anchor="start" textLength="18.4" lengthAdjust="spacingAndGlyphs" stroke="#000" stroke-width="0.10" fill="#000">124</text>
<text x="477.8" y="131.5" font-family="Liberation Sans" font-size="11.10" text-anchor="start" textLength="17.7" lengthAdjust="spacingAndGlyphs" stroke="#000" stroke-width="0.10" fill="#000">140</text>
<text x="461.1" y="147.1" font-family="Liberation Sans" font-size="11.10" text-anchor="start" textLength="18.5" lengthAdjust="spacingAndGlyphs" stroke="#000" stroke-width="0.10" fill="#000">164</text>
<text x="456.1" y="253.0" font-family="Liberation Sans" font-size="11.10" text-anchor="start" textLength="18.7" lengthAdjust="spacingAndGlyphs" stroke="#000" stroke-width="0.10" fill="#000">276</text>
<text x="526.8" y="280.5" font-family="Liberation Sans" font-size="11.10" text-anchor="start" textLength="18.4" lengthAdjust="spacingAndGlyphs" stroke="#000" stroke-width="0.10" fill="#000">377</text>
<text x="684.6" y="276.2" font-family="Liberation Sans" font-size="11.10" text-anchor="start" textLength="18.5" lengthAdjust="spacingAndGlyphs" stroke="#000" stroke-width="0.10" fill="#000">412</text>
<polyline points="553.5,112.0 553.5,129.0" fill="none" stroke="#000" stroke-width="1.00"/>
<polyline points="581.7,110.5 574.6,110.5 572.9,125.5" fill="none" stroke="#000" stroke-width="1.00"/>
<polyline points="622.5,114.5 613.7,114.5 592.4,124.8" fill="none" stroke="#000" stroke-width="1.00"/>
<polyline points="525.7,117.7 530.3,136.1" fill="none" stroke="#000" stroke-width="1.00"/>
<polyline points="497.7,130.5 504.4,130.5 506.2,146.8" fill="none" stroke="#000" stroke-width="1.00"/>
<polyline points="481.6,147.1 488.0,167.5" fill="none" stroke="#000" stroke-width="1.00"/>
<polyline points="477.1,252.5 483.9,252.5 490.5,218.0" fill="none" stroke="#000" stroke-width="1.00"/>
<polyline points="548.0,279.8 553.4,255.0" fill="none" stroke="#000" stroke-width="1.00"/>
<polyline points="682.8,275.5 675.7,275.5 670.4,248.9" fill="none" stroke="#000" stroke-width="1.00"/>
<text x="502.3" y="375.1" font-family="Liberation Serif" font-size="17.00" text-anchor="start" textLength="168.3" lengthAdjust="spacingAndGlyphs" fill="#000">(b): Source: EIA, (2012)</text>
<text x="70.9" y="424.4" font-family="Liberation Sans" font-size="10.50" text-anchor="start" font-weight="bold" textLength="225.1" lengthAdjust="spacingAndGlyphs" fill="#000">Global Biodiesel Production in billion litres</text>
<rect x="9" y="415.5" width="6.9" height="6.8" fill="#4571a8"/>
<text x="18.5" y="422.7" font-family="Liberation Sans" font-size="10.30" text-anchor="start" textLength="44.5" lengthAdjust="spacingAndGlyphs" stroke="#000" stroke-width="0.10" fill="#000">Indonesia</text>
<rect x="9" y="436.0" width="6.9" height="6.8" fill="#a94341"/>
<text x="18.5" y="443.2" font-family="Liberation Sans" font-size="10.30" text-anchor="start" textLength="12.6" lengthAdjust="spacingAndGlyphs" stroke="#000" stroke-width="0.10" fill="#000">US</text>
<rect x="9" y="456.4" width="6.9" height="6.8" fill="#8aa650"/>
<text x="18.5" y="463.6" font-family="Liberation Sans" font-size="10.30" text-anchor="start" textLength="24.9" lengthAdjust="spacingAndGlyphs" stroke="#000" stroke-width="0.10" fill="#000">Brazil</text>
<rect x="9" y="476.9" width="6.9" height="6.8" fill="#74589a"/>
<text x="18.5" y="484.1" font-family="Liberation Sans" font-size="10.30" text-anchor="start" textLength="42.4" lengthAdjust="spacingAndGlyphs" stroke="#000" stroke-width="0.10" fill="#000">Germany</text>
<rect x="9" y="497.4" width="6.9" height="6.8" fill="#3a9ab8"/>
<text x="18.5" y="504.6" font-family="Liberation Sans" font-size="10.30" text-anchor="start" textLength="30.6" lengthAdjust="spacingAndGlyphs" stroke="#000" stroke-width="0.10" fill="#000">France</text>
<rect x="9" y="517.9" width="6.9" height="6.8" fill="#e2832f"/>
<text x="18.5" y="525.1" font-family="Liberation Sans" font-size="10.30" text-anchor="start" textLength="44.5" lengthAdjust="spacingAndGlyphs" stroke="#000" stroke-width="0.10" fill="#000">Argentina</text>
<rect x="9" y="538.3" width="6.9" height="6.8" fill="#3f78c0"/>
<text x="18.5" y="545.5" font-family="Liberation Sans" font-size="10.30" text-anchor="start" textLength="56.5" lengthAdjust="spacingAndGlyphs" stroke="#000" stroke-width="0.10" fill="#000">Netherlands</text>
<rect x="9" y="558.8" width="6.9" height="6.8" fill="#c44341"/>
<text x="18.5" y="566.0" font-family="Liberation Sans" font-size="10.30" text-anchor="start" textLength="24.9" lengthAdjust="spacingAndGlyphs" stroke="#000" stroke-width="0.10" fill="#000">Spain</text>
<rect x="9" y="579.3" width="6.9" height="6.8" fill="#8cba44"/>
<text x="18.5" y="586.5" font-family="Liberation Sans" font-size="10.30" text-anchor="start" textLength="39.1" lengthAdjust="spacingAndGlyphs" stroke="#000" stroke-width="0.10" fill="#000">Thailand</text>
<rect x="9" y="599.7" width="6.9" height="6.8" fill="#7a52a4"/>
<text x="18.5" y="606.9" font-family="Liberation Sans" font-size="10.30" text-anchor="start" textLength="40.4" lengthAdjust="spacingAndGlyphs" stroke="#000" stroke-width="0.10" fill="#000">Malaysia</text>
<rect x="9" y="620.2" width="6.9" height="6.8" fill="#36a6c6"/>
<text x="18.5" y="627.4" font-family="Liberation Sans" font-size="10.30" text-anchor="start" textLength="19.5" lengthAdjust="spacingAndGlyphs" stroke="#000" stroke-width="0.10" fill="#000">Italy</text>
<rect x="9" y="640.7" width="6.9" height="6.8" fill="#ef8e30"/>
<text x="18.5" y="647.9" font-family="Liberation Sans" font-size="10.30" text-anchor="start" textLength="31.4" lengthAdjust="spacingAndGlyphs" stroke="#000" stroke-width="0.10" fill="#000">Poland</text>
<rect x="9" y="661.1" width="6.9" height="6.8" fill="#8ca6d8"/>
<text x="18.5" y="668.3" font-family="Liberation Sans" font-size="10.30" text-anchor="start" textLength="25.7" lengthAdjust="spacingAndGlyphs" stroke="#000" stroke-width="0.10" fill="#000">China</text>
<rect x="9" y="681.6" width="6.9" height="6.8" fill="#d48a90"/>
<text x="18.5" y="688.8" font-family="Liberation Sans" font-size="10.30" text-anchor="start" textLength="33.9" lengthAdjust="spacingAndGlyphs" stroke="#000" stroke-width="0.10" fill="#000">Canada</text>
<rect x="9" y="702.1" width="6.9" height="6.8" fill="#b4d08c"/>
<text x="18.5" y="709.3" font-family="Liberation Sans" font-size="10.30" text-anchor="start" textLength="22.4" lengthAdjust="spacingAndGlyphs" stroke="#000" stroke-width="0.10" fill="#000">India</text>
<text x="304.8" y="492.0" font-family="Liberation Sans" font-size="11.00" text-anchor="start" textLength="16.2" lengthAdjust="spacingAndGlyphs" stroke="#000" stroke-width="0.10" fill="#000">7.9</text>
<text x="345.5" y="588.2" font-family="Liberation Sans" font-size="11.00" text-anchor="start" textLength="15.7" lengthAdjust="spacingAndGlyphs" stroke="#000" stroke-width="0.10" fill="#000">6.5</text>
<text x="294.7" y="659.5" font-family="Liberation Sans" font-size="11.00" text-anchor="start" textLength="15.4" lengthAdjust="spacingAndGlyphs" stroke="#000" stroke-width="0.10" fill="#000">5.9</text>
<text x="148.8" y="666.7" font-family="Liberation Sans" font-size="11.00" text-anchor="start" textLength="15.7" lengthAdjust="spacingAndGlyphs" stroke="#000" stroke-width="0.10" fill="#000">3.8</text>
<text x="82.7" y="635.8" font-family="Liberation Sans" font-size="11.00" text-anchor="start" textLength="15.2" lengthAdjust="spacingAndGlyphs" stroke="#000" stroke-width="0.10" fill="#000">3.0</text>
<text x="59.8" y="594.8" font-family="Liberation Sans" font-size="11.00" text-anchor="start" textLength="15.5" lengthAdjust="spacingAndGlyphs" stroke="#000" stroke-width="0.10" fill="#000">2.5</text>
<text x="58.9" y="535.5" font-family="Liberation Sans" font-size="11.00" text-anchor="start" textLength="14.8" lengthAdjust="spacingAndGlyphs" stroke="#000" stroke-width="0.10" fill="#000">2.1</text>
<text x="72.9" y="521.9" font-family="Liberation Sans" font-size="11.00" text-anchor="start" textLength="16.3" lengthAdjust="spacingAndGlyphs" stroke="#000" stroke-width="0.10" fill="#000">2.0</text>
<text x="93.5" y="493.2" font-family="Liberation Sans" font-size="11.00" text-anchor="start" textLength="16.0" lengthAdjust="spacingAndGlyphs" stroke="#000" stroke-width="0.10" fill="#000">1.7</text>
<text x="127.2" y="487.8" font-family="Liberation Sans" font-size="11.00" text-anchor="start" textLength="16.2" lengthAdjust="spacingAndGlyphs" stroke="#000" stroke-width="0.10" fill="#000">1.6</text>
<text x="151.7" y="479.2" font-family="Liberation Sans" font-size="11.00" text-anchor="start" textLength="15.5" lengthAdjust="spacingAndGlyphs" stroke="#000" stroke-width="0.10" fill="#000">1.0</text>
<text x="170.1" y="474.7" font-family="Liberation Sans" font-size="11.00" text-anchor="start" textLength="15.5" lengthAdjust="spacingAndGlyphs" stroke="#000" stroke-width="0.10" fill="#000">1.0</text>
<text x="194.2" y="473.5" font-family="Liberation Sans" font-size="11.00" text-anchor="start" textLength="15.5" lengthAdjust="spacingAndGlyphs" stroke="#000" stroke-width="0.10" fill="#000">0.6</text>
<text x="217.5" y="476.0" font-family="Liberation Sans" font-size="11.00" text-anchor="start" textLength="16.0" lengthAdjust="spacingAndGlyphs" stroke="#000" stroke-width="0.10" fill="#000">0.3</text>
<text x="237.2" y="483.3" font-family="Liberation Sans" font-size="11.00" text-anchor="start" textLength="16.4" lengthAdjust="spacingAndGlyphs" stroke="#000" stroke-width="0.10" fill="#000">0.2</text>
<polyline points="303.3,493.5 296.5,493.5 295.5,502.0" fill="none" stroke="#000" stroke-width="1.00"/>
<polyline points="292.2,659.5 285.3,659.5 284.3,639.4" fill="none" stroke="#000" stroke-width="1.00"/>
<polyline points="167.6,666.0 173.0,642.2" fill="none" stroke="#000" stroke-width="1.00"/>
<polyline points="101.2,635.5 107.2,635.5 112.6,618.3" fill="none" stroke="#000" stroke-width="1.00"/>
<polyline points="78.3,594.5 84.3,594.5 89.2,589.1" fill="none" stroke="#000" stroke-width="1.00"/>
<polyline points="77.0,534.5 82.7,534.5 89.2,543.2" fill="none" stroke="#000" stroke-width="1.00"/>
<polyline points="91.7,521.5 98.2,521.5 103.1,524.3" fill="none" stroke="#000" stroke-width="1.00"/>
<polyline points="111.4,491.5 118.1,491.5 125.9,508.4" fill="none" stroke="#000" stroke-width="1.00"/>
<polyline points="145.1,487.5 151.7,498.8" fill="none" stroke="#000" stroke-width="1.00"/>
<polyline points="169.6,479.6 174.1,493.6" fill="none" stroke="#000" stroke-width="1.00"/>
<polyline points="188.0,474.7 192.5,491.2" fill="none" stroke="#000" stroke-width="1.00"/>
<polyline points="207.5,474.5 207.5,490.0" fill="none" stroke="#000" stroke-width="1.00"/>
<polyline points="215.5,477.2 215.5,490.0" fill="none" stroke="#000" stroke-width="1.00"/>
<polyline points="235.5,482.5 228.6,482.5 221.9,489.0" fill="none" stroke="#000" stroke-width="1.00"/>
<text x="134.9" y="749.5" font-family="Liberation Serif" font-size="17.00" text-anchor="start" textLength="215.1" lengthAdjust="spacingAndGlyphs" fill="#000">(c) Source: OECD/FAO (2016)</text>
<text x="440.6" y="437.5" font-family="Liberation Sans" font-size="10.50" text-anchor="start" font-weight="bold" textLength="250.4" lengthAdjust="spacingAndGlyphs" fill="#000">Global Bioethanol production in million gallons</text>
<rect x="409" y="439.8" width="5.8" height="5.8" fill="#4571a8"/>
<text x="418.0" y="446.4" font-family="Liberation Sans" font-size="9.80" text-anchor="start" textLength="18.7" lengthAdjust="spacingAndGlyphs" stroke="#000" stroke-width="0.10" fill="#000">USA</text>
<rect x="409" y="485.7" width="5.8" height="5.8" fill="#a94341"/>
<text x="418.0" y="492.3" font-family="Liberation Sans" font-size="9.80" text-anchor="start" textLength="24.6" lengthAdjust="spacingAndGlyphs" stroke="#000" stroke-width="0.10" fill="#000">Brazil</text>
<rect x="409" y="531.6" width="5.8" height="5.8" fill="#8aa650"/>
<text x="418.0" y="538.2" font-family="Liberation Sans" font-size="9.80" text-anchor="start" textLength="12.2" lengthAdjust="spacingAndGlyphs" stroke="#000" stroke-width="0.10" fill="#000">EU</text>
<rect x="409" y="577.5" width="5.8" height="5.8" fill="#74589a"/>
<text x="418.0" y="584.1" font-family="Liberation Sans" font-size="9.80" text-anchor="start" textLength="25.3" lengthAdjust="spacingAndGlyphs" stroke="#000" stroke-width="0.10" fill="#000">China</text>
<rect x="409" y="623.4" width="5.8" height="5.8" fill="#3a9ab8"/>
<text x="418.0" y="630.0" font-family="Liberation Sans" font-size="9.80" text-anchor="start" textLength="22.0" lengthAdjust="spacingAndGlyphs" stroke="#000" stroke-width="0.10" fill="#000">India</text>
<rect x="409" y="669.3" width="5.8" height="5.8" fill="#e2832f"/>
<text x="418.0" y="675.9" font-family="Liberation Sans" font-size="9.80" text-anchor="start" textLength="33.6" lengthAdjust="spacingAndGlyphs" stroke="#000" stroke-width="0.10" fill="#000">Canada</text>
<text x="682.6" y="650.8" font-family="Liberation Sans" font-size="10.10" text-anchor="start" textLength="30.8" lengthAdjust="spacingAndGlyphs" stroke="#000" stroke-width="0.10" fill="#000">15,800</text>
<text x="448.4" y="521.0" font-family="Liberation Sans" font-size="10.10" text-anchor="start" textLength="25.6" lengthAdjust="spacingAndGlyphs" stroke="#000" stroke-width="0.10" fill="#000">8,620</text>
<text x="533.3" y="496.0" font-family="Liberation Sans" font-size="10.10" text-anchor="start" textLength="27.5" lengthAdjust="spacingAndGlyphs" stroke="#000" stroke-width="0.10" fill="#000">1,440</text>
<text x="581.8" y="491.0" font-family="Liberation Sans" font-size="10.10" text-anchor="start" textLength="17.9" lengthAdjust="spacingAndGlyphs" stroke="#000" stroke-width="0.10" fill="#000">900</text>
<text x="612.3" y="487.2" font-family="Liberation Sans" font-size="10.10" text-anchor="start" textLength="17.2" lengthAdjust="spacingAndGlyphs" stroke="#000" stroke-width="0.10" fill="#000">530</text>
<text x="639.8" y="511.3" font-family="Liberation Sans" font-size="10.10" text-anchor="start" textLength="16.5" lengthAdjust="spacingAndGlyphs" stroke="#000" stroke-width="0.10" fill="#000">500</text>
<polyline points="711.5,620.8 711.5,639.4" fill="none" stroke="#000" stroke-width="1.00"/>
<polyline points="465.5,524.4 465.5,551.1" fill="none" stroke="#000" stroke-width="1.00"/>
<polyline points="592.5,492.9 592.5,506.3" fill="none" stroke="#000" stroke-width="1.00"/>
<polyline points="610.5,487.2 610.5,506.3" fill="none" stroke="#000" stroke-width="1.00"/>
<polyline points="637.2,510.5 629.5,510.5 623.8,509.0" fill="none" stroke="#000" stroke-width="1.00"/>
<text x="441.5" y="749.5" font-family="Liberation Serif" font-size="17.00" text-anchor="start" textLength="211.2" lengthAdjust="spacingAndGlyphs" fill="#000">(d) Source: OECD/FAO(2016)</text>
<text x="232.9" y="795.1" font-family="Liberation Sans" font-size="13.00" text-anchor="start" font-weight="bold" textLength="272.1" lengthAdjust="spacingAndGlyphs" fill="#000">Global wind energy installed capacity in GW</text>
<polyline points="219.5,1116.9 219.5,828.4 228.5,821.1 228.5,1109.4 219.4,1116.9" fill="none" stroke="#a0a0a0" stroke-width="1.50"/>
<polyline points="214.3,1116.5 556.2,1116.5" fill="none" stroke="#a0a0a0" stroke-width="1.50"/>
<polyline points="214.4,1116.5 219.4,1116.5" fill="none" stroke="#a0a0a0" stroke-width="1.20"/>
<polyline points="214.4,1088.5 219.4,1088.5" fill="none" stroke="#a0a0a0" stroke-width="1.20"/>
<polyline points="214.4,1059.5 219.4,1059.5" fill="none" stroke="#a0a0a0" stroke-width="1.20"/>
<polyline points="214.4,1030.5 219.4,1030.5" fill="none" stroke="#a0a0a0" stroke-width="1.20"/>
<polyline points="214.4,1001.5 219.4,1001.5" fill="none" stroke="#a0a0a0" stroke-width="1.20"/>
<polyline points="214.4,972.5 219.4,972.5" fill="none" stroke="#a0a0a0" stroke-width="1.20"/>
<polyline points="214.4,943.5 219.4,943.5" fill="none" stroke="#a0a0a0" stroke-width="1.20"/>
<polyline points="214.4,914.5 219.4,914.5" fill="none" stroke="#a0a0a0" stroke-width="1.20"/>
<polyline points="214.4,886.5 219.4,886.5" fill="none" stroke="#a0a0a0" stroke-width="1.20"/>
<polyline points="214.4,857.5 219.4,857.5" fill="none" stroke="#a0a0a0" stroke-width="1.20"/>
<polyline points="214.4,828.5 219.4,828.5" fill="none" stroke="#a0a0a0" stroke-width="1.20"/>
<polyline points="219.5,1116.9 219.5,1121.8" fill="none" stroke="#a0a0a0" stroke-width="1.20"/>
<text x="219.5" y="1139.7" font-family="Liberation Sans" font-size="12.20" text-anchor="middle" stroke="#000" stroke-width="0.10" fill="#000">0</text>
<polyline points="286.5,1116.9 286.5,1121.8" fill="none" stroke="#a0a0a0" stroke-width="1.20"/>
<text x="286.9" y="1139.7" font-family="Liberation Sans" font-size="12.20" text-anchor="middle" stroke="#000" stroke-width="0.10" fill="#000">50</text>
<polyline points="354.5,1116.9 354.5,1121.8" fill="none" stroke="#a0a0a0" stroke-width="1.20"/>
<text x="354.2" y="1139.7" font-family="Liberation Sans" font-size="12.20" text-anchor="middle" stroke="#000" stroke-width="0.10" fill="#000">100</text>
<polyline points="421.5,1116.9 421.5,1121.8" fill="none" stroke="#a0a0a0" stroke-width="1.20"/>
<text x="421.5" y="1139.7" font-family="Liberation Sans" font-size="12.20" text-anchor="middle" stroke="#000" stroke-width="0.10" fill="#000">150</text>
<polyline points="488.5,1116.9 488.5,1121.8" fill="none" stroke="#a0a0a0" stroke-width="1.20"/>
<text x="488.9" y="1139.7" font-family="Liberation Sans" font-size="12.20" text-anchor="middle" stroke="#000" stroke-width="0.10" fill="#000">200</text>
<polyline points="556.5,1116.9 556.5,1121.8" fill="none" stroke="#a0a0a0" stroke-width="1.20"/>
<text x="556.2" y="1139.7" font-family="Liberation Sans" font-size="12.20" text-anchor="middle" stroke="#000" stroke-width="0.10" fill="#000">250</text>
<polygon points="222.3,1094.6 225.9,1091.7 524.0,1091.7 520.4,1094.6" fill="#3d6aa2"/>
<polygon points="520.4,1094.6 524.0,1091.7 524.0,1103.1 520.4,1106.0" fill="#2f5788"/>
<rect x="222.3" y="1094.6" width="298.1" height="11.4" fill="url(#barF)"/>
<text x="529.4" y="1105.7" font-family="Liberation Sans" font-size="12.20" text-anchor="start" stroke="#000" stroke-width="0.10" fill="#000">221</text>
<text x="174.0" y="1107.9" font-family="Liberation Sans" font-size="12.10" text-anchor="start" textLength="31.5" lengthAdjust="spacingAndGlyphs" stroke="#000" stroke-width="0.10" fill="#000">China</text>
<polygon points="222.3,1065.7 225.9,1062.8 355.4,1062.8 351.8,1065.7" fill="#3d6aa2"/>
<polygon points="351.8,1065.7 355.4,1062.8 355.4,1074.2 351.8,1077.1" fill="#2f5788"/>
<rect x="222.3" y="1065.7" width="129.5" height="11.4" fill="url(#barF)"/>
<text x="360.8" y="1076.8" font-family="Liberation Sans" font-size="12.20" text-anchor="start" stroke="#000" stroke-width="0.10" fill="#000">96</text>
<text x="191.3" y="1079.0" font-family="Liberation Sans" font-size="12.10" text-anchor="start" textLength="14.2" lengthAdjust="spacingAndGlyphs" stroke="#000" stroke-width="0.10" fill="#000">US</text>
<polygon points="222.3,1036.9 225.9,1034.0 305.9,1034.0 302.3,1036.9" fill="#3d6aa2"/>
<polygon points="302.3,1036.9 305.9,1034.0 305.9,1045.4 302.3,1048.3" fill="#2f5788"/>
<rect x="222.3" y="1036.9" width="80.0" height="11.4" fill="url(#barF)"/>
<text x="311.3" y="1048.0" font-family="Liberation Sans" font-size="12.20" text-anchor="start" stroke="#000" stroke-width="0.10" fill="#000">59.3</text>
<text x="153.6" y="1050.2" font-family="Liberation Sans" font-size="12.10" text-anchor="start" textLength="51.9" lengthAdjust="spacingAndGlyphs" stroke="#000" stroke-width="0.10" fill="#000">Germany</text>
<polygon points="222.3,1008.0 225.9,1005.1 273.1,1005.1 269.5,1008.0" fill="#3d6aa2"/>
<polygon points="269.5,1008.0 273.1,1005.1 273.1,1016.5 269.5,1019.4" fill="#2f5788"/>
<rect x="222.3" y="1008.0" width="47.2" height="11.4" fill="url(#barF)"/>
<text x="278.5" y="1019.1" font-family="Liberation Sans" font-size="12.20" text-anchor="start" stroke="#000" stroke-width="0.10" fill="#000">35</text>
<text x="178.2" y="1021.3" font-family="Liberation Sans" font-size="12.10" text-anchor="start" textLength="27.3" lengthAdjust="spacingAndGlyphs" stroke="#000" stroke-width="0.10" fill="#000">India</text>
<polygon points="222.3,979.2 225.9,976.3 256.9,976.3 253.3,979.2" fill="#3d6aa2"/>
<polygon points="253.3,979.2 256.9,976.3 256.9,987.7 253.3,990.6" fill="#2f5788"/>
<rect x="222.3" y="979.2" width="31.0" height="11.4" fill="url(#barF)"/>
<text x="262.3" y="990.3" font-family="Liberation Sans" font-size="12.20" text-anchor="start" stroke="#000" stroke-width="0.10" fill="#000">23</text>
<text x="175.0" y="992.5" font-family="Liberation Sans" font-size="12.10" text-anchor="start" textLength="30.5" lengthAdjust="spacingAndGlyphs" stroke="#000" stroke-width="0.10" fill="#000">Spain</text>
<polygon points="222.3,950.3 225.9,947.4 253.8,947.4 250.2,950.3" fill="#3d6aa2"/>
<polygon points="250.2,950.3 253.8,947.4 253.8,958.8 250.2,961.7" fill="#2f5788"/>
<rect x="222.3" y="950.3" width="27.9" height="11.4" fill="url(#barF)"/>
<text x="259.2" y="961.4" font-family="Liberation Sans" font-size="12.20" text-anchor="start" stroke="#000" stroke-width="0.10" fill="#000">20.7</text>
<text x="190.4" y="963.6" font-family="Liberation Sans" font-size="12.10" text-anchor="start" textLength="15.1" lengthAdjust="spacingAndGlyphs" stroke="#000" stroke-width="0.10" fill="#000">UK</text>
<polygon points="222.3,921.5 225.9,918.6 246.5,918.6 242.9,921.5" fill="#3d6aa2"/>
<polygon points="242.9,921.5 246.5,918.6 246.5,930.0 242.9,932.9" fill="#2f5788"/>
<rect x="222.3" y="921.5" width="20.6" height="11.4" fill="url(#barF)"/>
<text x="251.9" y="932.6" font-family="Liberation Sans" font-size="12.20" text-anchor="start" stroke="#000" stroke-width="0.10" fill="#000">15.3</text>
<text x="167.8" y="934.8" font-family="Liberation Sans" font-size="12.10" text-anchor="start" textLength="37.7" lengthAdjust="spacingAndGlyphs" stroke="#000" stroke-width="0.10" fill="#000">France</text>
<polygon points="222.3,892.6 225.9,889.7 245.5,889.7 241.9,892.6" fill="#3d6aa2"/>
<polygon points="241.9,892.6 245.5,889.7 245.5,901.1 241.9,904.0" fill="#2f5788"/>
<rect x="222.3" y="892.6" width="19.6" height="11.4" fill="url(#barF)"/>
<text x="250.9" y="903.7" font-family="Liberation Sans" font-size="12.20" text-anchor="start" stroke="#000" stroke-width="0.10" fill="#000">14.5</text>
<text x="174.9" y="905.9" font-family="Liberation Sans" font-size="12.10" text-anchor="start" textLength="30.6" lengthAdjust="spacingAndGlyphs" stroke="#000" stroke-width="0.10" fill="#000">Brazil</text>
<polygon points="222.3,863.8 225.9,860.9 243.2,860.9 239.6,863.8" fill="#3d6aa2"/>
<polygon points="239.6,863.8 243.2,860.9 243.2,872.2 239.6,875.1" fill="#2f5788"/>
<rect x="222.3" y="863.8" width="17.3" height="11.4" fill="url(#barF)"/>
<text x="248.6" y="874.9" font-family="Liberation Sans" font-size="12.20" text-anchor="start" stroke="#000" stroke-width="0.10" fill="#000">12.8</text>
<text x="163.2" y="877.0" font-family="Liberation Sans" font-size="12.10" text-anchor="start" textLength="42.3" lengthAdjust="spacingAndGlyphs" stroke="#000" stroke-width="0.10" fill="#000">Canada</text>
<polygon points="222.3,834.9 225.9,832.0 239.4,832.0 235.8,834.9" fill="#3d6aa2"/>
<polygon points="235.8,834.9 239.4,832.0 239.4,843.4 235.8,846.3" fill="#2f5788"/>
<rect x="222.3" y="834.9" width="13.5" height="11.4" fill="url(#barF)"/>
<text x="244.8" y="846.0" font-family="Liberation Sans" font-size="12.20" text-anchor="start" stroke="#000" stroke-width="0.10" fill="#000">10</text>
<text x="181.3" y="848.2" font-family="Liberation Sans" font-size="12.10" text-anchor="start" textLength="24.2" lengthAdjust="spacingAndGlyphs" stroke="#000" stroke-width="0.10" fill="#000">Italy</text>
<text x="263.8" y="1188.8" font-family="Liberation Serif" font-size="16.70" text-anchor="start" textLength="208.9" lengthAdjust="spacingAndGlyphs" fill="#000">(e) Source: OECD/FAO (2016)</text>
</svg>
</body></html>
